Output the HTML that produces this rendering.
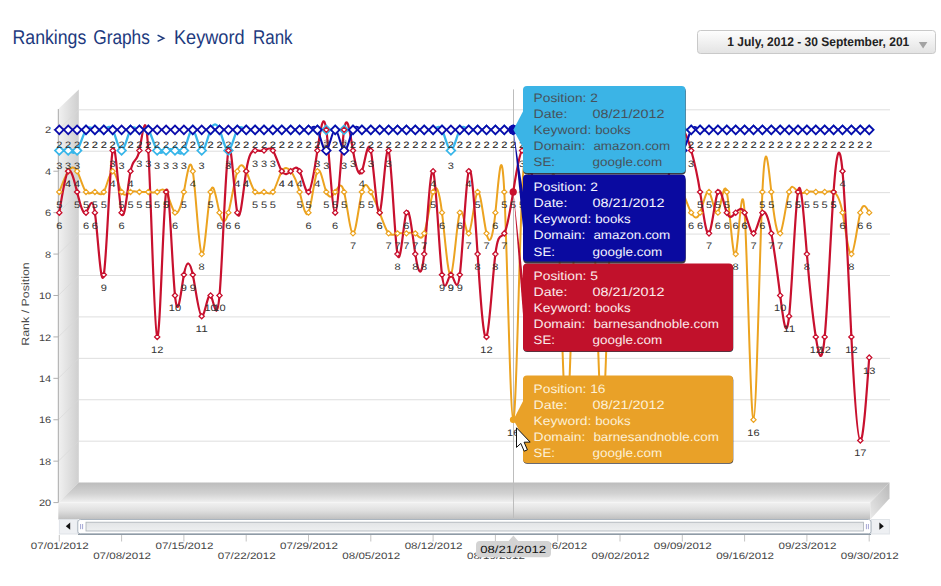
<!DOCTYPE html>
<html><head><meta charset="utf-8"><title>Rankings Graphs</title>
<style>
html,body{margin:0;padding:0;background:#fff;}
body{width:941px;height:586px;overflow:hidden;font-family:"Liberation Sans",sans-serif;}
svg{display:block;font-family:"Liberation Sans",sans-serif;text-rendering:geometricPrecision;}
</style></head><body>
<svg width="941" height="586" viewBox="0 0 941 586">
<defs>
<linearGradient id="gWall" x1="0" y1="0" x2="1" y2="0"><stop offset="0" stop-color="#f1f1f1"/><stop offset="1" stop-color="#cfcfcf"/></linearGradient>
<linearGradient id="gTop" x1="0" y1="0" x2="0" y2="1"><stop offset="0" stop-color="#bcbcbc"/><stop offset="0.55" stop-color="#d2d2d2"/><stop offset="1" stop-color="#f1f1f1"/></linearGradient>
<linearGradient id="gFront" x1="0" y1="0" x2="0" y2="1"><stop offset="0" stop-color="#f1f1f1"/><stop offset="0.5" stop-color="#dedede"/><stop offset="1" stop-color="#bebebe"/></linearGradient>
<linearGradient id="gSide" x1="0" y1="1" x2="1" y2="0"><stop offset="0" stop-color="#e9e9e9"/><stop offset="1" stop-color="#b9b9b9"/></linearGradient>
<linearGradient id="gBtn" x1="0" y1="0" x2="0" y2="1"><stop offset="0" stop-color="#fefefe"/><stop offset="1" stop-color="#e3e3e3"/></linearGradient>
<linearGradient id="gBar" x1="0" y1="0" x2="0" y2="1"><stop offset="0" stop-color="#e2e4e6"/><stop offset="1" stop-color="#eef0f1"/></linearGradient>
</defs>
<rect width="941" height="586" fill="#fff"/>

<text x="12.5" y="44" font-size="20" fill="#1d3a7e" textLength="73.8" lengthAdjust="spacingAndGlyphs">Rankings</text>
<text x="93.2" y="44" font-size="20" fill="#1d3a7e" textLength="56.7" lengthAdjust="spacingAndGlyphs">Graphs</text>
<text x="174" y="44" font-size="20" fill="#1d3a7e" textLength="70.5" lengthAdjust="spacingAndGlyphs">Keyword</text>
<text x="253" y="44" font-size="20" fill="#1d3a7e" textLength="39.6" lengthAdjust="spacingAndGlyphs">Rank</text>
<path d="M157.6,35.2 L163.8,38.3 L157.6,41.4" fill="none" stroke="#1d3a7e" stroke-width="1.5"/>
<rect x="697.5" y="30.5" width="238" height="23" rx="3" ry="3" fill="url(#gBtn)" stroke="#c9c9c9"/>
<text x="727.3" y="46.3" font-size="12.6" font-weight="bold" fill="#222" textLength="182" lengthAdjust="spacingAndGlyphs">1 July, 2012 - 30 September, 201</text>
<path d="M918.8,42 L927.4,42 L923.1,48.4 Z" fill="#a3a3a3"/>
<line x1="78.8" y1="109.81" x2="890" y2="109.81" stroke="#dedede" stroke-width="1"/>
<line x1="78.8" y1="151.23" x2="890" y2="151.23" stroke="#dedede" stroke-width="1"/>
<line x1="78.8" y1="192.65" x2="890" y2="192.65" stroke="#dedede" stroke-width="1"/>
<line x1="78.8" y1="234.07" x2="890" y2="234.07" stroke="#dedede" stroke-width="1"/>
<line x1="78.8" y1="275.49" x2="890" y2="275.49" stroke="#dedede" stroke-width="1"/>
<line x1="78.8" y1="316.91" x2="890" y2="316.91" stroke="#dedede" stroke-width="1"/>
<line x1="78.8" y1="358.33" x2="890" y2="358.33" stroke="#dedede" stroke-width="1"/>
<line x1="78.8" y1="399.75" x2="890" y2="399.75" stroke="#dedede" stroke-width="1"/>
<line x1="78.8" y1="441.17" x2="890" y2="441.17" stroke="#dedede" stroke-width="1"/>
<polygon points="58.3,109.1 78.8,89.4 78.8,482.6 58.3,502.6" fill="url(#gWall)"/>
<line x1="58.3" y1="129.81" x2="78.8" y2="109.81" stroke="#d8d8d8" stroke-opacity="0.7" stroke-width="1"/>
<line x1="58.3" y1="171.23" x2="78.8" y2="151.23" stroke="#d8d8d8" stroke-opacity="0.7" stroke-width="1"/>
<line x1="58.3" y1="212.65" x2="78.8" y2="192.65" stroke="#d8d8d8" stroke-opacity="0.7" stroke-width="1"/>
<line x1="58.3" y1="254.07" x2="78.8" y2="234.07" stroke="#d8d8d8" stroke-opacity="0.7" stroke-width="1"/>
<line x1="58.3" y1="295.49" x2="78.8" y2="275.49" stroke="#d8d8d8" stroke-opacity="0.7" stroke-width="1"/>
<line x1="58.3" y1="336.91" x2="78.8" y2="316.91" stroke="#d8d8d8" stroke-opacity="0.7" stroke-width="1"/>
<line x1="58.3" y1="378.33" x2="78.8" y2="358.33" stroke="#d8d8d8" stroke-opacity="0.7" stroke-width="1"/>
<line x1="58.3" y1="419.75" x2="78.8" y2="399.75" stroke="#d8d8d8" stroke-opacity="0.7" stroke-width="1"/>
<line x1="58.3" y1="461.17" x2="78.8" y2="441.17" stroke="#d8d8d8" stroke-opacity="0.7" stroke-width="1"/>
<polygon points="78.8,482.6 889.5,482.6 870.3,502.6 58.3,502.6" fill="url(#gTop)"/>
<rect x="58.3" y="502.6" width="812" height="16.9" fill="url(#gFront)"/>
<polygon points="870.3,502.6 889.5,482.6 889.5,498.5 870.3,519.5" fill="url(#gSide)"/>
<line x1="58.3" y1="109.1" x2="58.3" y2="502.6" stroke="#a8a8a8" stroke-width="1"/>
<line x1="53.4" y1="129.81" x2="58.3" y2="129.81" stroke="#b0b0b0" stroke-width="1"/>
<text x="45.06" y="133.41" font-size="9.40" fill="#444" textLength="6.14" lengthAdjust="spacingAndGlyphs"  >2</text>
<line x1="53.4" y1="171.23" x2="58.3" y2="171.23" stroke="#b0b0b0" stroke-width="1"/>
<text x="45.06" y="174.83" font-size="9.40" fill="#444" textLength="6.14" lengthAdjust="spacingAndGlyphs"  >4</text>
<line x1="53.4" y1="212.65" x2="58.3" y2="212.65" stroke="#b0b0b0" stroke-width="1"/>
<text x="45.06" y="216.25" font-size="9.40" fill="#444" textLength="6.14" lengthAdjust="spacingAndGlyphs"  >6</text>
<line x1="53.4" y1="254.07" x2="58.3" y2="254.07" stroke="#b0b0b0" stroke-width="1"/>
<text x="45.06" y="257.67" font-size="9.40" fill="#444" textLength="6.14" lengthAdjust="spacingAndGlyphs"  >8</text>
<line x1="53.4" y1="295.49" x2="58.3" y2="295.49" stroke="#b0b0b0" stroke-width="1"/>
<text x="38.93" y="299.09" font-size="9.40" fill="#444" textLength="12.27" lengthAdjust="spacingAndGlyphs"  >10</text>
<line x1="53.4" y1="336.91" x2="58.3" y2="336.91" stroke="#b0b0b0" stroke-width="1"/>
<text x="38.93" y="340.51" font-size="9.40" fill="#444" textLength="12.27" lengthAdjust="spacingAndGlyphs"  >12</text>
<line x1="53.4" y1="378.33" x2="58.3" y2="378.33" stroke="#b0b0b0" stroke-width="1"/>
<text x="38.93" y="381.93" font-size="9.40" fill="#444" textLength="12.27" lengthAdjust="spacingAndGlyphs"  >14</text>
<line x1="53.4" y1="419.75" x2="58.3" y2="419.75" stroke="#b0b0b0" stroke-width="1"/>
<text x="38.93" y="423.35" font-size="9.40" fill="#444" textLength="12.27" lengthAdjust="spacingAndGlyphs"  >16</text>
<line x1="53.4" y1="461.17" x2="58.3" y2="461.17" stroke="#b0b0b0" stroke-width="1"/>
<text x="38.93" y="464.77" font-size="9.40" fill="#444" textLength="12.27" lengthAdjust="spacingAndGlyphs"  >18</text>
<line x1="53.4" y1="502.59" x2="58.3" y2="502.59" stroke="#b0b0b0" stroke-width="1"/>
<text x="38.93" y="506.19" font-size="9.40" fill="#444" textLength="12.27" lengthAdjust="spacingAndGlyphs"  >20</text>
<g transform="translate(29.2,304) rotate(-90)"><text x="-41.76" y="0.00" font-size="10.45" fill="#4c4c4c" textLength="83.51" lengthAdjust="spacingAndGlyphs"  >Rank / Position</text></g>
<line x1="513.5" y1="89.4" x2="513.5" y2="518" stroke="#bdbdbd" stroke-width="1"/>
<path d="M59.30,191.94C62.27,183.83 65.23,175.72 68.20,171.23C71.17,166.74 74.13,165.87 77.10,171.23C80.07,176.59 83.03,188.20 86.00,191.94C88.97,195.68 91.93,191.56 94.90,191.94C97.87,192.32 100.83,197.19 103.80,191.94C106.77,186.69 109.73,171.31 112.70,171.23C115.67,171.15 118.63,186.38 121.60,191.94C124.57,197.50 127.53,193.41 130.50,191.94C133.47,190.47 136.43,191.63 139.40,191.94C142.37,192.25 145.33,191.70 148.30,191.94C151.27,192.18 154.23,193.20 157.20,191.94C160.17,190.68 163.13,187.12 166.10,191.94C169.07,196.76 172.03,209.95 175.00,212.65C177.97,215.35 180.93,207.57 183.90,191.94C186.87,176.31 189.83,152.82 192.80,171.23C195.77,189.64 198.73,249.93 201.70,254.07C204.67,258.21 207.63,206.20 210.60,191.94C213.57,177.68 216.53,201.18 219.50,212.65C222.47,224.12 225.43,223.55 228.40,212.65C231.37,201.75 234.33,180.52 237.30,171.23C240.27,161.94 243.23,164.60 246.20,171.23C249.17,177.86 252.13,188.45 255.10,191.94C258.07,195.43 261.03,191.83 264.00,191.94C266.97,192.05 269.93,195.86 272.90,191.94C275.87,188.02 278.83,176.35 281.80,171.23C284.77,166.11 287.73,167.54 290.70,171.23C293.67,174.92 296.63,180.86 299.60,191.94C302.57,203.02 305.53,219.23 308.50,212.65C311.47,206.07 314.43,176.70 317.40,171.23C320.37,165.76 323.33,184.19 326.30,191.94C329.27,199.69 332.23,196.76 335.20,191.94C338.17,187.12 341.13,180.40 344.10,191.94C347.07,203.48 350.03,233.26 353.00,233.36C355.97,233.46 358.93,203.86 361.90,191.94C364.87,180.02 367.83,185.78 370.80,191.94C373.77,198.10 376.73,204.68 379.70,212.65C382.67,220.62 385.63,229.99 388.60,233.36C391.57,236.73 394.53,234.11 397.50,233.36C400.47,232.61 403.43,233.74 406.40,233.36C409.37,232.98 412.33,231.10 415.30,233.36C418.27,235.62 421.23,242.04 424.20,233.36C427.17,224.68 430.13,200.92 433.10,191.94C436.07,182.96 439.03,188.75 442.00,212.65C444.97,236.55 447.93,278.54 450.90,274.78C453.87,271.02 456.83,221.49 459.80,212.65C462.77,203.81 465.73,235.67 468.70,233.36C471.67,231.05 474.63,194.59 477.60,191.94C480.57,189.29 483.53,220.46 486.50,233.36C489.47,246.26 492.43,240.88 495.40,212.65C498.37,184.42 501.33,133.35 504.30,191.94C507.27,250.53 510.23,418.77 513.20,419.75C516.17,420.73 519.13,254.44 522.10,191.94C525.07,129.44 528.03,170.74 531.00,191.94C533.97,213.14 536.93,214.24 539.90,212.65C542.87,211.06 545.83,206.77 548.80,191.94C551.77,177.11 554.73,151.72 557.70,212.65C560.67,273.58 563.63,420.81 566.60,419.75C569.57,418.69 572.53,269.33 575.50,212.65C578.47,155.97 581.43,191.97 584.40,191.94C587.37,191.91 590.33,155.85 593.30,212.65C596.27,269.45 599.23,419.11 602.20,419.75C605.17,420.39 608.13,272.01 611.10,212.65C614.07,153.29 617.03,182.94 620.00,191.94C622.97,200.94 625.93,189.30 628.90,191.94C631.87,194.58 634.83,211.51 637.80,212.65C640.77,213.79 643.73,199.16 646.70,191.94C649.67,184.72 652.63,184.93 655.60,191.94C658.57,198.95 661.53,212.78 664.50,212.65C667.47,212.52 670.43,198.43 673.40,191.94C676.37,185.45 679.33,186.55 682.30,191.94C685.27,197.33 688.23,206.99 691.20,212.65C694.17,218.31 697.13,219.96 700.10,212.65C703.07,205.34 706.03,189.08 709.00,191.94C711.97,194.80 714.93,216.79 717.90,212.65C720.87,208.51 723.83,178.25 726.80,191.94C729.77,205.63 732.73,263.25 735.70,254.07C738.67,244.89 741.63,168.89 744.60,212.65C747.57,256.41 750.53,419.93 753.50,419.75C756.47,419.57 759.43,255.69 762.40,191.94C765.37,128.19 768.33,164.56 771.30,191.94C774.27,219.32 777.23,237.72 780.20,233.36C783.17,229.00 786.13,201.87 789.10,191.94C792.07,182.01 795.03,189.27 798.00,191.94C800.97,194.61 803.93,192.68 806.90,191.94C809.87,191.20 812.83,191.65 815.80,191.94C818.77,192.23 821.73,192.37 824.70,191.94C827.67,191.51 830.63,190.51 833.60,191.94C836.57,193.37 839.53,197.23 842.50,212.65C845.47,228.07 848.43,255.03 851.40,254.07C854.37,253.11 857.33,224.21 860.30,212.65C863.27,201.09 866.23,206.87 869.20,212.65" fill="none" stroke="#eca320" stroke-width="2.0" stroke-linejoin="round"/>
<path d="M59.30,150.52C62.27,149.90 65.23,149.27 68.20,150.52C71.17,151.77 74.13,154.89 77.10,150.52C80.07,146.15 83.03,134.29 86.00,129.81C88.97,125.33 91.93,128.24 94.90,129.81C97.87,131.38 100.83,131.62 103.80,129.81C106.77,128.00 109.73,124.15 112.70,129.81C115.67,135.47 118.63,150.63 121.60,150.52C124.57,150.41 127.53,135.04 130.50,129.81C133.47,124.58 136.43,129.49 139.40,129.81C142.37,130.13 145.33,125.86 148.30,129.81C151.27,133.76 154.23,145.92 157.20,150.52C160.17,155.12 163.13,152.14 166.10,150.52C169.07,148.90 172.03,148.63 175.00,150.52C177.97,152.41 180.93,156.44 183.90,150.52C186.87,144.60 189.83,128.72 192.80,129.81C195.77,130.90 198.73,148.96 201.70,150.52C204.67,152.08 207.63,137.16 210.60,129.81C213.57,122.46 216.53,122.69 219.50,129.81C222.47,136.93 225.43,150.94 228.40,150.52C231.37,150.10 234.33,135.25 237.30,129.81C240.27,124.37 243.23,128.35 246.20,129.81C249.17,131.27 252.13,130.20 255.10,129.81C258.07,129.42 261.03,129.71 264.00,129.81C266.97,129.91 269.93,129.84 272.90,129.81C275.87,129.78 278.83,129.80 281.80,129.81C284.77,129.82 287.73,129.81 290.70,129.81C293.67,129.81 296.63,129.81 299.60,129.81C302.57,129.81 305.53,129.81 308.50,129.81C311.47,129.81 314.43,129.81 317.40,129.81C320.37,129.81 323.33,129.81 326.30,129.81C329.27,129.81 332.23,129.81 335.20,129.81C338.17,129.81 341.13,129.81 344.10,129.81C347.07,129.81 350.03,129.81 353.00,129.81C355.97,129.81 358.93,129.81 361.90,129.81C364.87,129.81 367.83,129.81 370.80,129.81C373.77,129.81 376.73,129.81 379.70,129.81C382.67,129.81 385.63,129.81 388.60,129.81C391.57,129.81 394.53,129.82 397.50,129.81C400.47,129.80 403.43,129.78 406.40,129.81C409.37,129.84 412.33,129.92 415.30,129.81C418.27,129.70 421.23,129.41 424.20,129.81C427.17,130.21 430.13,131.30 433.10,129.81C436.07,128.32 439.03,124.26 442.00,129.81C444.97,135.36 447.93,150.52 450.90,150.52C453.87,150.52 456.83,135.36 459.80,129.81C462.77,124.26 465.73,128.32 468.70,129.81C471.67,131.30 474.63,130.21 477.60,129.81C480.57,129.41 483.53,129.70 486.50,129.81C489.47,129.92 492.43,129.84 495.40,129.81C498.37,129.78 501.33,129.80 504.30,129.81C507.27,129.82 510.23,129.81 513.20,129.81C516.17,129.81 519.13,129.81 522.10,129.81C525.07,129.81 528.03,129.81 531.00,129.81C533.97,129.81 536.93,129.81 539.90,129.81C542.87,129.81 545.83,129.81 548.80,129.81C551.77,129.81 554.73,129.81 557.70,129.81C560.67,129.81 563.63,129.81 566.60,129.81C569.57,129.81 572.53,129.81 575.50,129.81C578.47,129.81 581.43,129.81 584.40,129.81C587.37,129.81 590.33,129.81 593.30,129.81C596.27,129.81 599.23,129.81 602.20,129.81C605.17,129.81 608.13,129.81 611.10,129.81C614.07,129.81 617.03,129.81 620.00,129.81C622.97,129.81 625.93,129.81 628.90,129.81C631.87,129.81 634.83,129.81 637.80,129.81C640.77,129.81 643.73,129.81 646.70,129.81C649.67,129.81 652.63,129.81 655.60,129.81C658.57,129.81 661.53,129.81 664.50,129.81C667.47,129.81 670.43,129.81 673.40,129.81C676.37,129.81 679.33,129.81 682.30,129.81C685.27,129.81 688.23,129.81 691.20,129.81C694.17,129.81 697.13,129.81 700.10,129.81C703.07,129.81 706.03,129.81 709.00,129.81C711.97,129.81 714.93,129.81 717.90,129.81C720.87,129.81 723.83,129.81 726.80,129.81C729.77,129.81 732.73,129.81 735.70,129.81C738.67,129.81 741.63,129.81 744.60,129.81C747.57,129.81 750.53,129.81 753.50,129.81C756.47,129.81 759.43,129.81 762.40,129.81C765.37,129.81 768.33,129.81 771.30,129.81C774.27,129.81 777.23,129.81 780.20,129.81C783.17,129.81 786.13,129.81 789.10,129.81C792.07,129.81 795.03,129.81 798.00,129.81C800.97,129.81 803.93,129.81 806.90,129.81C809.87,129.81 812.83,129.81 815.80,129.81C818.77,129.81 821.73,129.81 824.70,129.81C827.67,129.81 830.63,129.81 833.60,129.81C836.57,129.81 839.53,129.81 842.50,129.81C845.47,129.81 848.43,129.81 851.40,129.81C854.37,129.81 857.33,129.81 860.30,129.81C863.27,129.81 866.23,129.81 869.20,129.81" fill="none" stroke="#38b6e9" stroke-width="2.3" stroke-linejoin="round"/>
<path d="M59.30,212.65C62.27,193.65 65.23,174.64 68.20,171.23C71.17,167.82 74.13,180.00 77.10,191.94C80.07,203.88 83.03,215.59 86.00,212.65C88.97,209.71 91.93,192.12 94.90,212.65C97.87,233.18 100.83,291.84 103.80,274.78C106.77,257.72 109.73,164.94 112.70,150.52C115.67,136.10 118.63,200.05 121.60,212.65C124.57,225.25 127.53,186.48 130.50,171.23C133.47,155.98 136.43,164.23 139.40,150.52C142.37,136.81 145.33,101.14 148.30,150.52C151.27,199.90 154.23,334.32 157.20,336.91C160.17,339.50 163.13,210.27 166.10,191.94C169.07,173.61 172.03,266.19 175.00,295.49C177.97,324.79 180.93,290.82 183.90,274.78C186.87,258.74 189.83,260.65 192.80,274.78C195.77,288.91 198.73,315.26 201.70,316.20C204.67,317.14 207.63,292.66 210.60,295.49C213.57,298.32 216.53,328.45 219.50,295.49C222.47,262.53 225.43,166.47 228.40,150.52C231.37,134.57 234.33,198.75 237.30,212.65C240.27,226.55 243.23,190.19 246.20,171.23C249.17,152.27 252.13,150.70 255.10,150.52C258.07,150.34 261.03,151.53 264.00,150.52C266.97,149.51 269.93,146.29 272.90,150.52C275.87,154.75 278.83,166.41 281.80,171.23C284.77,176.05 287.73,174.01 290.70,171.23C293.67,168.45 296.63,164.94 299.60,171.23C302.57,177.52 305.53,193.62 308.50,191.94C311.47,190.26 314.43,170.80 317.40,150.52C320.37,130.24 323.33,109.15 326.30,129.81C329.27,150.47 332.23,212.87 335.20,212.65C338.17,212.43 341.13,149.60 344.10,129.81C347.07,110.02 350.03,133.29 353.00,150.52C355.97,167.75 358.93,178.94 361.90,171.23C364.87,163.52 367.83,136.90 370.80,150.52C373.77,164.14 376.73,217.99 379.70,212.65C382.67,207.31 385.63,142.78 388.60,150.52C391.57,158.26 394.53,238.28 397.50,254.07C400.47,269.86 403.43,221.42 406.40,212.65C409.37,203.88 412.33,234.78 415.30,254.07C418.27,273.36 421.23,281.05 424.20,254.07C427.17,227.09 430.13,165.44 433.10,171.23C436.07,177.02 439.03,250.25 442.00,274.78C444.97,299.31 447.93,275.14 450.90,274.78C453.87,274.42 456.83,297.88 459.80,274.78C462.77,251.68 465.73,182.01 468.70,171.23C471.67,160.45 474.63,208.56 477.60,254.07C480.57,299.58 483.53,342.48 486.50,336.91C489.47,331.34 492.43,277.30 495.40,254.07C498.37,230.84 501.33,238.43 504.30,233.36C507.27,228.29 510.23,210.57 513.20,191.94C516.17,173.31 519.13,153.76 522.10,150.52C525.07,147.28 528.03,160.35 531.00,171.23C533.97,182.11 536.93,190.79 539.90,191.94C542.87,193.09 545.83,186.70 548.80,191.94C551.77,197.18 554.73,214.05 557.70,212.65C560.67,211.25 563.63,191.56 566.60,191.94C569.57,192.32 572.53,212.75 575.50,212.65C578.47,212.55 581.43,191.91 584.40,191.94C587.37,191.97 590.33,212.66 593.30,212.65C596.27,212.64 599.23,191.94 602.20,191.94C605.17,191.94 608.13,212.64 611.10,212.65C614.07,212.66 617.03,191.96 620.00,191.94C622.97,191.92 625.93,212.57 628.90,212.65C631.87,212.73 634.83,192.23 637.80,191.94C640.77,191.65 643.73,211.58 646.70,212.65C649.67,213.72 652.63,195.94 655.60,191.94C658.57,187.94 661.53,197.71 664.50,191.94C667.47,186.17 670.43,164.84 673.40,150.52C676.37,136.20 679.33,128.88 682.30,129.81C685.27,130.74 688.23,139.93 691.20,150.52C694.17,161.11 697.13,173.09 700.10,191.94C703.07,210.79 706.03,236.50 709.00,233.36C711.97,230.22 714.93,198.24 717.90,191.94C720.87,185.64 723.83,205.04 726.80,212.65C729.77,220.26 732.73,216.10 735.70,212.65C738.67,209.20 741.63,206.46 744.60,212.65C747.57,218.84 750.53,233.96 753.50,233.36C756.47,232.76 759.43,216.44 762.40,212.65C765.37,208.86 768.33,217.61 771.30,233.36C774.27,249.11 777.23,271.87 780.20,295.49C783.17,319.11 786.13,343.58 789.10,316.20C792.07,288.82 795.03,209.58 798.00,191.94C800.97,174.30 803.93,218.28 806.90,254.07C809.87,289.86 812.83,317.48 815.80,336.91C818.77,356.34 821.73,367.58 824.70,336.91C827.67,306.24 830.63,233.67 833.60,191.94C836.57,150.21 839.53,139.34 842.50,171.23C845.47,203.12 848.43,277.79 851.40,336.91C854.37,396.03 857.33,439.60 860.30,440.46C863.27,441.32 866.23,399.47 869.20,357.62" fill="none" stroke="#c8102e" stroke-width="2.2" stroke-linejoin="round"/>
<path d="M59.30,129.81C62.27,129.81 65.23,129.81 68.20,129.81C71.17,129.81 74.13,129.81 77.10,129.81C80.07,129.81 83.03,129.81 86.00,129.81C88.97,129.81 91.93,129.81 94.90,129.81C97.87,129.81 100.83,129.81 103.80,129.81C106.77,129.81 109.73,129.81 112.70,129.81C115.67,129.81 118.63,129.81 121.60,129.81C124.57,129.81 127.53,129.81 130.50,129.81C133.47,129.81 136.43,129.81 139.40,129.81C142.37,129.81 145.33,129.81 148.30,129.81C151.27,129.81 154.23,129.81 157.20,129.81C160.17,129.81 163.13,129.81 166.10,129.81C169.07,129.81 172.03,129.81 175.00,129.81C177.97,129.81 180.93,129.81 183.90,129.81C186.87,129.81 189.83,129.81 192.80,129.81C195.77,129.81 198.73,129.81 201.70,129.81C204.67,129.81 207.63,129.81 210.60,129.81C213.57,129.81 216.53,129.81 219.50,129.81C222.47,129.81 225.43,129.81 228.40,129.81C231.37,129.81 234.33,129.81 237.30,129.81C240.27,129.81 243.23,129.81 246.20,129.81C249.17,129.81 252.13,129.81 255.10,129.81C258.07,129.81 261.03,129.81 264.00,129.81C266.97,129.81 269.93,129.82 272.90,129.81C275.87,129.80 278.83,129.78 281.80,129.81C284.77,129.84 287.73,129.92 290.70,129.81C293.67,129.70 296.63,129.38 299.60,129.81C302.57,130.24 305.53,131.40 308.50,129.81C311.47,128.22 314.43,123.86 317.40,129.81C320.37,135.76 323.33,152.01 326.30,150.52C329.27,149.03 332.23,129.81 335.20,129.81C338.17,129.81 341.13,149.03 344.10,150.52C347.07,152.01 350.03,135.76 353.00,129.81C355.97,123.86 358.93,128.22 361.90,129.81C364.87,131.40 367.83,130.24 370.80,129.81C373.77,129.38 376.73,129.70 379.70,129.81C382.67,129.92 385.63,129.84 388.60,129.81C391.57,129.78 394.53,129.80 397.50,129.81C400.47,129.82 403.43,129.81 406.40,129.81C409.37,129.81 412.33,129.81 415.30,129.81C418.27,129.81 421.23,129.81 424.20,129.81C427.17,129.81 430.13,129.81 433.10,129.81C436.07,129.81 439.03,129.81 442.00,129.81C444.97,129.81 447.93,129.81 450.90,129.81C453.87,129.81 456.83,129.81 459.80,129.81C462.77,129.81 465.73,129.81 468.70,129.81C471.67,129.81 474.63,129.81 477.60,129.81C480.57,129.81 483.53,129.81 486.50,129.81C489.47,129.81 492.43,129.81 495.40,129.81C498.37,129.81 501.33,129.81 504.30,129.81C507.27,129.81 510.23,129.81 513.20,129.81C516.17,129.81 519.13,129.81 522.10,129.81C525.07,129.81 528.03,129.81 531.00,129.81C533.97,129.81 536.93,129.81 539.90,129.81C542.87,129.81 545.83,129.81 548.80,129.81C551.77,129.81 554.73,129.81 557.70,129.81C560.67,129.81 563.63,129.81 566.60,129.81C569.57,129.81 572.53,129.81 575.50,129.81C578.47,129.81 581.43,129.81 584.40,129.81C587.37,129.81 590.33,129.81 593.30,129.81C596.27,129.81 599.23,129.81 602.20,129.81C605.17,129.81 608.13,129.81 611.10,129.81C614.07,129.81 617.03,129.81 620.00,129.81C622.97,129.81 625.93,129.82 628.90,129.81C631.87,129.80 634.83,129.78 637.80,129.81C640.77,129.84 643.73,129.92 646.70,129.81C649.67,129.70 652.63,129.41 655.60,129.81C658.57,130.21 661.53,131.30 664.50,129.81C667.47,128.32 670.43,124.26 673.40,129.81C676.37,135.36 679.33,150.52 682.30,150.52C685.27,150.52 688.23,135.36 691.20,129.81C694.17,124.26 697.13,128.32 700.10,129.81C703.07,131.30 706.03,130.21 709.00,129.81C711.97,129.41 714.93,129.70 717.90,129.81C720.87,129.92 723.83,129.84 726.80,129.81C729.77,129.78 732.73,129.80 735.70,129.81C738.67,129.82 741.63,129.81 744.60,129.81C747.57,129.81 750.53,129.81 753.50,129.81C756.47,129.81 759.43,129.81 762.40,129.81C765.37,129.81 768.33,129.81 771.30,129.81C774.27,129.81 777.23,129.81 780.20,129.81C783.17,129.81 786.13,129.81 789.10,129.81C792.07,129.81 795.03,129.81 798.00,129.81C800.97,129.81 803.93,129.81 806.90,129.81C809.87,129.81 812.83,129.81 815.80,129.81C818.77,129.81 821.73,129.81 824.70,129.81C827.67,129.81 830.63,129.81 833.60,129.81C836.57,129.81 839.53,129.81 842.50,129.81C845.47,129.81 848.43,129.81 851.40,129.81C854.37,129.81 857.33,129.81 860.30,129.81C863.27,129.81 866.23,129.81 869.20,129.81" fill="none" stroke="#0b0bab" stroke-width="2.1" stroke-linejoin="round"/>
<path d="M56.70,191.94L59.30,189.34L61.90,191.94L59.30,194.54ZM65.60,171.23L68.20,168.63L70.80,171.23L68.20,173.83ZM74.50,171.23L77.10,168.63L79.70,171.23L77.10,173.83ZM83.40,191.94L86.00,189.34L88.60,191.94L86.00,194.54ZM92.30,191.94L94.90,189.34L97.50,191.94L94.90,194.54ZM101.20,191.94L103.80,189.34L106.40,191.94L103.80,194.54ZM110.10,171.23L112.70,168.63L115.30,171.23L112.70,173.83ZM119.00,191.94L121.60,189.34L124.20,191.94L121.60,194.54ZM127.90,191.94L130.50,189.34L133.10,191.94L130.50,194.54ZM136.80,191.94L139.40,189.34L142.00,191.94L139.40,194.54ZM145.70,191.94L148.30,189.34L150.90,191.94L148.30,194.54ZM154.60,191.94L157.20,189.34L159.80,191.94L157.20,194.54ZM163.50,191.94L166.10,189.34L168.70,191.94L166.10,194.54ZM172.40,212.65L175.00,210.05L177.60,212.65L175.00,215.25ZM181.30,191.94L183.90,189.34L186.50,191.94L183.90,194.54ZM190.20,171.23L192.80,168.63L195.40,171.23L192.80,173.83ZM199.10,254.07L201.70,251.47L204.30,254.07L201.70,256.67ZM208.00,191.94L210.60,189.34L213.20,191.94L210.60,194.54ZM216.90,212.65L219.50,210.05L222.10,212.65L219.50,215.25ZM225.80,212.65L228.40,210.05L231.00,212.65L228.40,215.25ZM234.70,171.23L237.30,168.63L239.90,171.23L237.30,173.83ZM243.60,171.23L246.20,168.63L248.80,171.23L246.20,173.83ZM252.50,191.94L255.10,189.34L257.70,191.94L255.10,194.54ZM261.40,191.94L264.00,189.34L266.60,191.94L264.00,194.54ZM270.30,191.94L272.90,189.34L275.50,191.94L272.90,194.54ZM279.20,171.23L281.80,168.63L284.40,171.23L281.80,173.83ZM288.10,171.23L290.70,168.63L293.30,171.23L290.70,173.83ZM297.00,191.94L299.60,189.34L302.20,191.94L299.60,194.54ZM305.90,212.65L308.50,210.05L311.10,212.65L308.50,215.25ZM314.80,171.23L317.40,168.63L320.00,171.23L317.40,173.83ZM323.70,191.94L326.30,189.34L328.90,191.94L326.30,194.54ZM332.60,191.94L335.20,189.34L337.80,191.94L335.20,194.54ZM341.50,191.94L344.10,189.34L346.70,191.94L344.10,194.54ZM350.40,233.36L353.00,230.76L355.60,233.36L353.00,235.96ZM359.30,191.94L361.90,189.34L364.50,191.94L361.90,194.54ZM368.20,191.94L370.80,189.34L373.40,191.94L370.80,194.54ZM377.10,212.65L379.70,210.05L382.30,212.65L379.70,215.25ZM386.00,233.36L388.60,230.76L391.20,233.36L388.60,235.96ZM394.90,233.36L397.50,230.76L400.10,233.36L397.50,235.96ZM403.80,233.36L406.40,230.76L409.00,233.36L406.40,235.96ZM412.70,233.36L415.30,230.76L417.90,233.36L415.30,235.96ZM421.60,233.36L424.20,230.76L426.80,233.36L424.20,235.96ZM430.50,191.94L433.10,189.34L435.70,191.94L433.10,194.54ZM439.40,212.65L442.00,210.05L444.60,212.65L442.00,215.25ZM448.30,274.78L450.90,272.18L453.50,274.78L450.90,277.38ZM457.20,212.65L459.80,210.05L462.40,212.65L459.80,215.25ZM466.10,233.36L468.70,230.76L471.30,233.36L468.70,235.96ZM475.00,191.94L477.60,189.34L480.20,191.94L477.60,194.54ZM483.90,233.36L486.50,230.76L489.10,233.36L486.50,235.96ZM492.80,212.65L495.40,210.05L498.00,212.65L495.40,215.25ZM501.70,191.94L504.30,189.34L506.90,191.94L504.30,194.54ZM510.60,419.75L513.20,417.15L515.80,419.75L513.20,422.35ZM519.50,191.94L522.10,189.34L524.70,191.94L522.10,194.54ZM528.40,191.94L531.00,189.34L533.60,191.94L531.00,194.54ZM537.30,212.65L539.90,210.05L542.50,212.65L539.90,215.25ZM546.20,191.94L548.80,189.34L551.40,191.94L548.80,194.54ZM555.10,212.65L557.70,210.05L560.30,212.65L557.70,215.25ZM564.00,419.75L566.60,417.15L569.20,419.75L566.60,422.35ZM572.90,212.65L575.50,210.05L578.10,212.65L575.50,215.25ZM581.80,191.94L584.40,189.34L587.00,191.94L584.40,194.54ZM590.70,212.65L593.30,210.05L595.90,212.65L593.30,215.25ZM599.60,419.75L602.20,417.15L604.80,419.75L602.20,422.35ZM608.50,212.65L611.10,210.05L613.70,212.65L611.10,215.25ZM617.40,191.94L620.00,189.34L622.60,191.94L620.00,194.54ZM626.30,191.94L628.90,189.34L631.50,191.94L628.90,194.54ZM635.20,212.65L637.80,210.05L640.40,212.65L637.80,215.25ZM644.10,191.94L646.70,189.34L649.30,191.94L646.70,194.54ZM653.00,191.94L655.60,189.34L658.20,191.94L655.60,194.54ZM661.90,212.65L664.50,210.05L667.10,212.65L664.50,215.25ZM670.80,191.94L673.40,189.34L676.00,191.94L673.40,194.54ZM679.70,191.94L682.30,189.34L684.90,191.94L682.30,194.54ZM688.60,212.65L691.20,210.05L693.80,212.65L691.20,215.25ZM697.50,212.65L700.10,210.05L702.70,212.65L700.10,215.25ZM706.40,191.94L709.00,189.34L711.60,191.94L709.00,194.54ZM715.30,212.65L717.90,210.05L720.50,212.65L717.90,215.25ZM724.20,191.94L726.80,189.34L729.40,191.94L726.80,194.54ZM733.10,254.07L735.70,251.47L738.30,254.07L735.70,256.67ZM742.00,212.65L744.60,210.05L747.20,212.65L744.60,215.25ZM750.90,419.75L753.50,417.15L756.10,419.75L753.50,422.35ZM759.80,191.94L762.40,189.34L765.00,191.94L762.40,194.54ZM768.70,191.94L771.30,189.34L773.90,191.94L771.30,194.54ZM777.60,233.36L780.20,230.76L782.80,233.36L780.20,235.96ZM786.50,191.94L789.10,189.34L791.70,191.94L789.10,194.54ZM795.40,191.94L798.00,189.34L800.60,191.94L798.00,194.54ZM804.30,191.94L806.90,189.34L809.50,191.94L806.90,194.54ZM813.20,191.94L815.80,189.34L818.40,191.94L815.80,194.54ZM822.10,191.94L824.70,189.34L827.30,191.94L824.70,194.54ZM831.00,191.94L833.60,189.34L836.20,191.94L833.60,194.54ZM839.90,212.65L842.50,210.05L845.10,212.65L842.50,215.25ZM848.80,254.07L851.40,251.47L854.00,254.07L851.40,256.67ZM857.70,212.65L860.30,210.05L862.90,212.65L860.30,215.25ZM866.60,212.65L869.20,210.05L871.80,212.65L869.20,215.25Z" fill="#fff" stroke="#eca320" stroke-width="1.2"/>
<path d="M55.00,150.52L59.30,146.22L63.60,150.52L59.30,154.82ZM63.90,150.52L68.20,146.22L72.50,150.52L68.20,154.82ZM72.80,150.52L77.10,146.22L81.40,150.52L77.10,154.82ZM81.70,129.81L86.00,125.51L90.30,129.81L86.00,134.11ZM90.60,129.81L94.90,125.51L99.20,129.81L94.90,134.11ZM99.50,129.81L103.80,125.51L108.10,129.81L103.80,134.11ZM108.40,129.81L112.70,125.51L117.00,129.81L112.70,134.11ZM117.30,150.52L121.60,146.22L125.90,150.52L121.60,154.82ZM126.20,129.81L130.50,125.51L134.80,129.81L130.50,134.11ZM135.10,129.81L139.40,125.51L143.70,129.81L139.40,134.11ZM144.00,129.81L148.30,125.51L152.60,129.81L148.30,134.11ZM152.90,150.52L157.20,146.22L161.50,150.52L157.20,154.82ZM161.80,150.52L166.10,146.22L170.40,150.52L166.10,154.82ZM170.70,150.52L175.00,146.22L179.30,150.52L175.00,154.82ZM179.60,150.52L183.90,146.22L188.20,150.52L183.90,154.82ZM188.50,129.81L192.80,125.51L197.10,129.81L192.80,134.11ZM197.40,150.52L201.70,146.22L206.00,150.52L201.70,154.82ZM206.30,129.81L210.60,125.51L214.90,129.81L210.60,134.11ZM215.20,129.81L219.50,125.51L223.80,129.81L219.50,134.11ZM224.10,150.52L228.40,146.22L232.70,150.52L228.40,154.82ZM233.00,129.81L237.30,125.51L241.60,129.81L237.30,134.11ZM241.90,129.81L246.20,125.51L250.50,129.81L246.20,134.11ZM250.80,129.81L255.10,125.51L259.40,129.81L255.10,134.11ZM259.70,129.81L264.00,125.51L268.30,129.81L264.00,134.11ZM268.60,129.81L272.90,125.51L277.20,129.81L272.90,134.11ZM277.50,129.81L281.80,125.51L286.10,129.81L281.80,134.11ZM286.40,129.81L290.70,125.51L295.00,129.81L290.70,134.11ZM295.30,129.81L299.60,125.51L303.90,129.81L299.60,134.11ZM304.20,129.81L308.50,125.51L312.80,129.81L308.50,134.11ZM313.10,129.81L317.40,125.51L321.70,129.81L317.40,134.11ZM322.00,129.81L326.30,125.51L330.60,129.81L326.30,134.11ZM330.90,129.81L335.20,125.51L339.50,129.81L335.20,134.11ZM339.80,129.81L344.10,125.51L348.40,129.81L344.10,134.11ZM348.70,129.81L353.00,125.51L357.30,129.81L353.00,134.11ZM357.60,129.81L361.90,125.51L366.20,129.81L361.90,134.11ZM366.50,129.81L370.80,125.51L375.10,129.81L370.80,134.11ZM375.40,129.81L379.70,125.51L384.00,129.81L379.70,134.11ZM384.30,129.81L388.60,125.51L392.90,129.81L388.60,134.11ZM393.20,129.81L397.50,125.51L401.80,129.81L397.50,134.11ZM402.10,129.81L406.40,125.51L410.70,129.81L406.40,134.11ZM411.00,129.81L415.30,125.51L419.60,129.81L415.30,134.11ZM419.90,129.81L424.20,125.51L428.50,129.81L424.20,134.11ZM428.80,129.81L433.10,125.51L437.40,129.81L433.10,134.11ZM437.70,129.81L442.00,125.51L446.30,129.81L442.00,134.11ZM446.60,150.52L450.90,146.22L455.20,150.52L450.90,154.82ZM455.50,129.81L459.80,125.51L464.10,129.81L459.80,134.11ZM464.40,129.81L468.70,125.51L473.00,129.81L468.70,134.11ZM473.30,129.81L477.60,125.51L481.90,129.81L477.60,134.11ZM482.20,129.81L486.50,125.51L490.80,129.81L486.50,134.11ZM491.10,129.81L495.40,125.51L499.70,129.81L495.40,134.11ZM500.00,129.81L504.30,125.51L508.60,129.81L504.30,134.11ZM508.90,129.81L513.20,125.51L517.50,129.81L513.20,134.11ZM517.80,129.81L522.10,125.51L526.40,129.81L522.10,134.11ZM526.70,129.81L531.00,125.51L535.30,129.81L531.00,134.11ZM535.60,129.81L539.90,125.51L544.20,129.81L539.90,134.11ZM544.50,129.81L548.80,125.51L553.10,129.81L548.80,134.11ZM553.40,129.81L557.70,125.51L562.00,129.81L557.70,134.11ZM562.30,129.81L566.60,125.51L570.90,129.81L566.60,134.11ZM571.20,129.81L575.50,125.51L579.80,129.81L575.50,134.11ZM580.10,129.81L584.40,125.51L588.70,129.81L584.40,134.11ZM589.00,129.81L593.30,125.51L597.60,129.81L593.30,134.11ZM597.90,129.81L602.20,125.51L606.50,129.81L602.20,134.11ZM606.80,129.81L611.10,125.51L615.40,129.81L611.10,134.11ZM615.70,129.81L620.00,125.51L624.30,129.81L620.00,134.11ZM624.60,129.81L628.90,125.51L633.20,129.81L628.90,134.11ZM633.50,129.81L637.80,125.51L642.10,129.81L637.80,134.11ZM642.40,129.81L646.70,125.51L651.00,129.81L646.70,134.11ZM651.30,129.81L655.60,125.51L659.90,129.81L655.60,134.11ZM660.20,129.81L664.50,125.51L668.80,129.81L664.50,134.11ZM669.10,129.81L673.40,125.51L677.70,129.81L673.40,134.11ZM678.00,129.81L682.30,125.51L686.60,129.81L682.30,134.11ZM686.90,129.81L691.20,125.51L695.50,129.81L691.20,134.11ZM695.80,129.81L700.10,125.51L704.40,129.81L700.10,134.11ZM704.70,129.81L709.00,125.51L713.30,129.81L709.00,134.11ZM713.60,129.81L717.90,125.51L722.20,129.81L717.90,134.11ZM722.50,129.81L726.80,125.51L731.10,129.81L726.80,134.11ZM731.40,129.81L735.70,125.51L740.00,129.81L735.70,134.11ZM740.30,129.81L744.60,125.51L748.90,129.81L744.60,134.11ZM749.20,129.81L753.50,125.51L757.80,129.81L753.50,134.11ZM758.10,129.81L762.40,125.51L766.70,129.81L762.40,134.11ZM767.00,129.81L771.30,125.51L775.60,129.81L771.30,134.11ZM775.90,129.81L780.20,125.51L784.50,129.81L780.20,134.11ZM784.80,129.81L789.10,125.51L793.40,129.81L789.10,134.11ZM793.70,129.81L798.00,125.51L802.30,129.81L798.00,134.11ZM802.60,129.81L806.90,125.51L811.20,129.81L806.90,134.11ZM811.50,129.81L815.80,125.51L820.10,129.81L815.80,134.11ZM820.40,129.81L824.70,125.51L829.00,129.81L824.70,134.11ZM829.30,129.81L833.60,125.51L837.90,129.81L833.60,134.11ZM838.20,129.81L842.50,125.51L846.80,129.81L842.50,134.11ZM847.10,129.81L851.40,125.51L855.70,129.81L851.40,134.11ZM856.00,129.81L860.30,125.51L864.60,129.81L860.30,134.11ZM864.90,129.81L869.20,125.51L873.50,129.81L869.20,134.11Z" fill="#fff" stroke="#38b6e9" stroke-width="1.8"/>
<path d="M56.70,212.65L59.30,210.05L61.90,212.65L59.30,215.25ZM65.60,171.23L68.20,168.63L70.80,171.23L68.20,173.83ZM74.50,191.94L77.10,189.34L79.70,191.94L77.10,194.54ZM83.40,212.65L86.00,210.05L88.60,212.65L86.00,215.25ZM92.30,212.65L94.90,210.05L97.50,212.65L94.90,215.25ZM101.20,274.78L103.80,272.18L106.40,274.78L103.80,277.38ZM110.10,150.52L112.70,147.92L115.30,150.52L112.70,153.12ZM119.00,212.65L121.60,210.05L124.20,212.65L121.60,215.25ZM127.90,171.23L130.50,168.63L133.10,171.23L130.50,173.83ZM136.80,150.52L139.40,147.92L142.00,150.52L139.40,153.12ZM145.70,150.52L148.30,147.92L150.90,150.52L148.30,153.12ZM154.60,336.91L157.20,334.31L159.80,336.91L157.20,339.51ZM163.50,191.94L166.10,189.34L168.70,191.94L166.10,194.54ZM172.40,295.49L175.00,292.89L177.60,295.49L175.00,298.09ZM181.30,274.78L183.90,272.18L186.50,274.78L183.90,277.38ZM190.20,274.78L192.80,272.18L195.40,274.78L192.80,277.38ZM199.10,316.20L201.70,313.60L204.30,316.20L201.70,318.80ZM208.00,295.49L210.60,292.89L213.20,295.49L210.60,298.09ZM216.90,295.49L219.50,292.89L222.10,295.49L219.50,298.09ZM225.80,150.52L228.40,147.92L231.00,150.52L228.40,153.12ZM234.70,212.65L237.30,210.05L239.90,212.65L237.30,215.25ZM243.60,171.23L246.20,168.63L248.80,171.23L246.20,173.83ZM252.50,150.52L255.10,147.92L257.70,150.52L255.10,153.12ZM261.40,150.52L264.00,147.92L266.60,150.52L264.00,153.12ZM270.30,150.52L272.90,147.92L275.50,150.52L272.90,153.12ZM279.20,171.23L281.80,168.63L284.40,171.23L281.80,173.83ZM288.10,171.23L290.70,168.63L293.30,171.23L290.70,173.83ZM297.00,171.23L299.60,168.63L302.20,171.23L299.60,173.83ZM305.90,191.94L308.50,189.34L311.10,191.94L308.50,194.54ZM314.80,150.52L317.40,147.92L320.00,150.52L317.40,153.12ZM323.70,129.81L326.30,127.21L328.90,129.81L326.30,132.41ZM332.60,212.65L335.20,210.05L337.80,212.65L335.20,215.25ZM341.50,129.81L344.10,127.21L346.70,129.81L344.10,132.41ZM350.40,150.52L353.00,147.92L355.60,150.52L353.00,153.12ZM359.30,171.23L361.90,168.63L364.50,171.23L361.90,173.83ZM368.20,150.52L370.80,147.92L373.40,150.52L370.80,153.12ZM377.10,212.65L379.70,210.05L382.30,212.65L379.70,215.25ZM386.00,150.52L388.60,147.92L391.20,150.52L388.60,153.12ZM394.90,254.07L397.50,251.47L400.10,254.07L397.50,256.67ZM403.80,212.65L406.40,210.05L409.00,212.65L406.40,215.25ZM412.70,254.07L415.30,251.47L417.90,254.07L415.30,256.67ZM421.60,254.07L424.20,251.47L426.80,254.07L424.20,256.67ZM430.50,171.23L433.10,168.63L435.70,171.23L433.10,173.83ZM439.40,274.78L442.00,272.18L444.60,274.78L442.00,277.38ZM448.30,274.78L450.90,272.18L453.50,274.78L450.90,277.38ZM457.20,274.78L459.80,272.18L462.40,274.78L459.80,277.38ZM466.10,171.23L468.70,168.63L471.30,171.23L468.70,173.83ZM475.00,254.07L477.60,251.47L480.20,254.07L477.60,256.67ZM483.90,336.91L486.50,334.31L489.10,336.91L486.50,339.51ZM492.80,254.07L495.40,251.47L498.00,254.07L495.40,256.67ZM501.70,233.36L504.30,230.76L506.90,233.36L504.30,235.96ZM510.60,191.94L513.20,189.34L515.80,191.94L513.20,194.54ZM519.50,150.52L522.10,147.92L524.70,150.52L522.10,153.12ZM528.40,171.23L531.00,168.63L533.60,171.23L531.00,173.83ZM537.30,191.94L539.90,189.34L542.50,191.94L539.90,194.54ZM546.20,191.94L548.80,189.34L551.40,191.94L548.80,194.54ZM555.10,212.65L557.70,210.05L560.30,212.65L557.70,215.25ZM564.00,191.94L566.60,189.34L569.20,191.94L566.60,194.54ZM572.90,212.65L575.50,210.05L578.10,212.65L575.50,215.25ZM581.80,191.94L584.40,189.34L587.00,191.94L584.40,194.54ZM590.70,212.65L593.30,210.05L595.90,212.65L593.30,215.25ZM599.60,191.94L602.20,189.34L604.80,191.94L602.20,194.54ZM608.50,212.65L611.10,210.05L613.70,212.65L611.10,215.25ZM617.40,191.94L620.00,189.34L622.60,191.94L620.00,194.54ZM626.30,212.65L628.90,210.05L631.50,212.65L628.90,215.25ZM635.20,191.94L637.80,189.34L640.40,191.94L637.80,194.54ZM644.10,212.65L646.70,210.05L649.30,212.65L646.70,215.25ZM653.00,191.94L655.60,189.34L658.20,191.94L655.60,194.54ZM661.90,191.94L664.50,189.34L667.10,191.94L664.50,194.54ZM670.80,150.52L673.40,147.92L676.00,150.52L673.40,153.12ZM679.70,129.81L682.30,127.21L684.90,129.81L682.30,132.41ZM688.60,150.52L691.20,147.92L693.80,150.52L691.20,153.12ZM697.50,191.94L700.10,189.34L702.70,191.94L700.10,194.54ZM706.40,233.36L709.00,230.76L711.60,233.36L709.00,235.96ZM715.30,191.94L717.90,189.34L720.50,191.94L717.90,194.54ZM724.20,212.65L726.80,210.05L729.40,212.65L726.80,215.25ZM733.10,212.65L735.70,210.05L738.30,212.65L735.70,215.25ZM742.00,212.65L744.60,210.05L747.20,212.65L744.60,215.25ZM750.90,233.36L753.50,230.76L756.10,233.36L753.50,235.96ZM759.80,212.65L762.40,210.05L765.00,212.65L762.40,215.25ZM768.70,233.36L771.30,230.76L773.90,233.36L771.30,235.96ZM777.60,295.49L780.20,292.89L782.80,295.49L780.20,298.09ZM786.50,316.20L789.10,313.60L791.70,316.20L789.10,318.80ZM795.40,191.94L798.00,189.34L800.60,191.94L798.00,194.54ZM804.30,254.07L806.90,251.47L809.50,254.07L806.90,256.67ZM813.20,336.91L815.80,334.31L818.40,336.91L815.80,339.51ZM822.10,336.91L824.70,334.31L827.30,336.91L824.70,339.51ZM831.00,191.94L833.60,189.34L836.20,191.94L833.60,194.54ZM839.90,171.23L842.50,168.63L845.10,171.23L842.50,173.83ZM848.80,336.91L851.40,334.31L854.00,336.91L851.40,339.51ZM857.70,440.46L860.30,437.86L862.90,440.46L860.30,443.06ZM866.60,357.62L869.20,355.02L871.80,357.62L869.20,360.22Z" fill="#fff" stroke="#c8102e" stroke-width="1.3"/>
<path d="M55.00,129.81L59.30,125.51L63.60,129.81L59.30,134.11ZM63.90,129.81L68.20,125.51L72.50,129.81L68.20,134.11ZM72.80,129.81L77.10,125.51L81.40,129.81L77.10,134.11ZM81.70,129.81L86.00,125.51L90.30,129.81L86.00,134.11ZM90.60,129.81L94.90,125.51L99.20,129.81L94.90,134.11ZM99.50,129.81L103.80,125.51L108.10,129.81L103.80,134.11ZM108.40,129.81L112.70,125.51L117.00,129.81L112.70,134.11ZM117.30,129.81L121.60,125.51L125.90,129.81L121.60,134.11ZM126.20,129.81L130.50,125.51L134.80,129.81L130.50,134.11ZM135.10,129.81L139.40,125.51L143.70,129.81L139.40,134.11ZM144.00,129.81L148.30,125.51L152.60,129.81L148.30,134.11ZM152.90,129.81L157.20,125.51L161.50,129.81L157.20,134.11ZM161.80,129.81L166.10,125.51L170.40,129.81L166.10,134.11ZM170.70,129.81L175.00,125.51L179.30,129.81L175.00,134.11ZM179.60,129.81L183.90,125.51L188.20,129.81L183.90,134.11ZM188.50,129.81L192.80,125.51L197.10,129.81L192.80,134.11ZM197.40,129.81L201.70,125.51L206.00,129.81L201.70,134.11ZM206.30,129.81L210.60,125.51L214.90,129.81L210.60,134.11ZM215.20,129.81L219.50,125.51L223.80,129.81L219.50,134.11ZM224.10,129.81L228.40,125.51L232.70,129.81L228.40,134.11ZM233.00,129.81L237.30,125.51L241.60,129.81L237.30,134.11ZM241.90,129.81L246.20,125.51L250.50,129.81L246.20,134.11ZM250.80,129.81L255.10,125.51L259.40,129.81L255.10,134.11ZM259.70,129.81L264.00,125.51L268.30,129.81L264.00,134.11ZM268.60,129.81L272.90,125.51L277.20,129.81L272.90,134.11ZM277.50,129.81L281.80,125.51L286.10,129.81L281.80,134.11ZM286.40,129.81L290.70,125.51L295.00,129.81L290.70,134.11ZM295.30,129.81L299.60,125.51L303.90,129.81L299.60,134.11ZM304.20,129.81L308.50,125.51L312.80,129.81L308.50,134.11ZM313.10,129.81L317.40,125.51L321.70,129.81L317.40,134.11ZM322.00,150.52L326.30,146.22L330.60,150.52L326.30,154.82ZM330.90,129.81L335.20,125.51L339.50,129.81L335.20,134.11ZM339.80,150.52L344.10,146.22L348.40,150.52L344.10,154.82ZM348.70,129.81L353.00,125.51L357.30,129.81L353.00,134.11ZM357.60,129.81L361.90,125.51L366.20,129.81L361.90,134.11ZM366.50,129.81L370.80,125.51L375.10,129.81L370.80,134.11ZM375.40,129.81L379.70,125.51L384.00,129.81L379.70,134.11ZM384.30,129.81L388.60,125.51L392.90,129.81L388.60,134.11ZM393.20,129.81L397.50,125.51L401.80,129.81L397.50,134.11ZM402.10,129.81L406.40,125.51L410.70,129.81L406.40,134.11ZM411.00,129.81L415.30,125.51L419.60,129.81L415.30,134.11ZM419.90,129.81L424.20,125.51L428.50,129.81L424.20,134.11ZM428.80,129.81L433.10,125.51L437.40,129.81L433.10,134.11ZM437.70,129.81L442.00,125.51L446.30,129.81L442.00,134.11ZM446.60,129.81L450.90,125.51L455.20,129.81L450.90,134.11ZM455.50,129.81L459.80,125.51L464.10,129.81L459.80,134.11ZM464.40,129.81L468.70,125.51L473.00,129.81L468.70,134.11ZM473.30,129.81L477.60,125.51L481.90,129.81L477.60,134.11ZM482.20,129.81L486.50,125.51L490.80,129.81L486.50,134.11ZM491.10,129.81L495.40,125.51L499.70,129.81L495.40,134.11ZM500.00,129.81L504.30,125.51L508.60,129.81L504.30,134.11ZM508.90,129.81L513.20,125.51L517.50,129.81L513.20,134.11ZM517.80,129.81L522.10,125.51L526.40,129.81L522.10,134.11ZM526.70,129.81L531.00,125.51L535.30,129.81L531.00,134.11ZM535.60,129.81L539.90,125.51L544.20,129.81L539.90,134.11ZM544.50,129.81L548.80,125.51L553.10,129.81L548.80,134.11ZM553.40,129.81L557.70,125.51L562.00,129.81L557.70,134.11ZM562.30,129.81L566.60,125.51L570.90,129.81L566.60,134.11ZM571.20,129.81L575.50,125.51L579.80,129.81L575.50,134.11ZM580.10,129.81L584.40,125.51L588.70,129.81L584.40,134.11ZM589.00,129.81L593.30,125.51L597.60,129.81L593.30,134.11ZM597.90,129.81L602.20,125.51L606.50,129.81L602.20,134.11ZM606.80,129.81L611.10,125.51L615.40,129.81L611.10,134.11ZM615.70,129.81L620.00,125.51L624.30,129.81L620.00,134.11ZM624.60,129.81L628.90,125.51L633.20,129.81L628.90,134.11ZM633.50,129.81L637.80,125.51L642.10,129.81L637.80,134.11ZM642.40,129.81L646.70,125.51L651.00,129.81L646.70,134.11ZM651.30,129.81L655.60,125.51L659.90,129.81L655.60,134.11ZM660.20,129.81L664.50,125.51L668.80,129.81L664.50,134.11ZM669.10,129.81L673.40,125.51L677.70,129.81L673.40,134.11ZM678.00,150.52L682.30,146.22L686.60,150.52L682.30,154.82ZM686.90,129.81L691.20,125.51L695.50,129.81L691.20,134.11ZM695.80,129.81L700.10,125.51L704.40,129.81L700.10,134.11ZM704.70,129.81L709.00,125.51L713.30,129.81L709.00,134.11ZM713.60,129.81L717.90,125.51L722.20,129.81L717.90,134.11ZM722.50,129.81L726.80,125.51L731.10,129.81L726.80,134.11ZM731.40,129.81L735.70,125.51L740.00,129.81L735.70,134.11ZM740.30,129.81L744.60,125.51L748.90,129.81L744.60,134.11ZM749.20,129.81L753.50,125.51L757.80,129.81L753.50,134.11ZM758.10,129.81L762.40,125.51L766.70,129.81L762.40,134.11ZM767.00,129.81L771.30,125.51L775.60,129.81L771.30,134.11ZM775.90,129.81L780.20,125.51L784.50,129.81L780.20,134.11ZM784.80,129.81L789.10,125.51L793.40,129.81L789.10,134.11ZM793.70,129.81L798.00,125.51L802.30,129.81L798.00,134.11ZM802.60,129.81L806.90,125.51L811.20,129.81L806.90,134.11ZM811.50,129.81L815.80,125.51L820.10,129.81L815.80,134.11ZM820.40,129.81L824.70,125.51L829.00,129.81L824.70,134.11ZM829.30,129.81L833.60,125.51L837.90,129.81L833.60,134.11ZM838.20,129.81L842.50,125.51L846.80,129.81L842.50,134.11ZM847.10,129.81L851.40,125.51L855.70,129.81L851.40,134.11ZM856.00,129.81L860.30,125.51L864.60,129.81L860.30,134.11ZM864.90,129.81L869.20,125.51L873.50,129.81L869.20,134.11Z" fill="#fff" stroke="#0b0bab" stroke-width="1.8"/>
<circle cx="513.20" cy="419.75" r="3.3" fill="#eca320"/>
<circle cx="513.20" cy="191.94" r="3.6" fill="#c8102e"/>
<circle cx="513.20" cy="129.81" r="5" fill="#0b0bab"/>
<g>
<text x="56.23" y="207.94" font-size="9.40" fill="#333" textLength="6.14" lengthAdjust="spacingAndGlyphs"  >5</text>
<text x="65.13" y="187.23" font-size="9.40" fill="#333" textLength="6.14" lengthAdjust="spacingAndGlyphs"  >4</text>
<text x="74.03" y="187.23" font-size="9.40" fill="#333" textLength="6.14" lengthAdjust="spacingAndGlyphs"  >4</text>
<text x="82.93" y="207.94" font-size="9.40" fill="#333" textLength="6.14" lengthAdjust="spacingAndGlyphs"  >5</text>
<text x="91.83" y="207.94" font-size="9.40" fill="#333" textLength="6.14" lengthAdjust="spacingAndGlyphs"  >5</text>
<text x="100.73" y="207.94" font-size="9.40" fill="#333" textLength="6.14" lengthAdjust="spacingAndGlyphs"  >5</text>
<text x="109.63" y="187.23" font-size="9.40" fill="#333" textLength="6.14" lengthAdjust="spacingAndGlyphs"  >4</text>
<text x="118.53" y="207.94" font-size="9.40" fill="#333" textLength="6.14" lengthAdjust="spacingAndGlyphs"  >5</text>
<text x="127.43" y="207.94" font-size="9.40" fill="#333" textLength="6.14" lengthAdjust="spacingAndGlyphs"  >5</text>
<text x="136.33" y="207.94" font-size="9.40" fill="#333" textLength="6.14" lengthAdjust="spacingAndGlyphs"  >5</text>
<text x="145.23" y="207.94" font-size="9.40" fill="#333" textLength="6.14" lengthAdjust="spacingAndGlyphs"  >5</text>
<text x="154.13" y="207.94" font-size="9.40" fill="#333" textLength="6.14" lengthAdjust="spacingAndGlyphs"  >5</text>
<text x="163.03" y="207.94" font-size="9.40" fill="#333" textLength="6.14" lengthAdjust="spacingAndGlyphs"  >5</text>
<text x="171.93" y="228.65" font-size="9.40" fill="#333" textLength="6.14" lengthAdjust="spacingAndGlyphs"  >6</text>
<text x="180.83" y="207.94" font-size="9.40" fill="#333" textLength="6.14" lengthAdjust="spacingAndGlyphs"  >5</text>
<text x="189.73" y="187.23" font-size="9.40" fill="#333" textLength="6.14" lengthAdjust="spacingAndGlyphs"  >4</text>
<text x="198.63" y="270.07" font-size="9.40" fill="#333" textLength="6.14" lengthAdjust="spacingAndGlyphs"  >8</text>
<text x="207.53" y="207.94" font-size="9.40" fill="#333" textLength="6.14" lengthAdjust="spacingAndGlyphs"  >5</text>
<text x="216.43" y="228.65" font-size="9.40" fill="#333" textLength="6.14" lengthAdjust="spacingAndGlyphs"  >6</text>
<text x="225.33" y="228.65" font-size="9.40" fill="#333" textLength="6.14" lengthAdjust="spacingAndGlyphs"  >6</text>
<text x="234.23" y="187.23" font-size="9.40" fill="#333" textLength="6.14" lengthAdjust="spacingAndGlyphs"  >4</text>
<text x="243.13" y="187.23" font-size="9.40" fill="#333" textLength="6.14" lengthAdjust="spacingAndGlyphs"  >4</text>
<text x="252.03" y="207.94" font-size="9.40" fill="#333" textLength="6.14" lengthAdjust="spacingAndGlyphs"  >5</text>
<text x="260.93" y="207.94" font-size="9.40" fill="#333" textLength="6.14" lengthAdjust="spacingAndGlyphs"  >5</text>
<text x="269.83" y="207.94" font-size="9.40" fill="#333" textLength="6.14" lengthAdjust="spacingAndGlyphs"  >5</text>
<text x="278.73" y="187.23" font-size="9.40" fill="#333" textLength="6.14" lengthAdjust="spacingAndGlyphs"  >4</text>
<text x="287.63" y="187.23" font-size="9.40" fill="#333" textLength="6.14" lengthAdjust="spacingAndGlyphs"  >4</text>
<text x="296.53" y="207.94" font-size="9.40" fill="#333" textLength="6.14" lengthAdjust="spacingAndGlyphs"  >5</text>
<text x="305.43" y="228.65" font-size="9.40" fill="#333" textLength="6.14" lengthAdjust="spacingAndGlyphs"  >6</text>
<text x="314.33" y="187.23" font-size="9.40" fill="#333" textLength="6.14" lengthAdjust="spacingAndGlyphs"  >4</text>
<text x="323.23" y="207.94" font-size="9.40" fill="#333" textLength="6.14" lengthAdjust="spacingAndGlyphs"  >5</text>
<text x="332.13" y="207.94" font-size="9.40" fill="#333" textLength="6.14" lengthAdjust="spacingAndGlyphs"  >5</text>
<text x="341.03" y="207.94" font-size="9.40" fill="#333" textLength="6.14" lengthAdjust="spacingAndGlyphs"  >5</text>
<text x="349.93" y="249.36" font-size="9.40" fill="#333" textLength="6.14" lengthAdjust="spacingAndGlyphs"  >7</text>
<text x="358.83" y="207.94" font-size="9.40" fill="#333" textLength="6.14" lengthAdjust="spacingAndGlyphs"  >5</text>
<text x="367.73" y="207.94" font-size="9.40" fill="#333" textLength="6.14" lengthAdjust="spacingAndGlyphs"  >5</text>
<text x="376.63" y="228.65" font-size="9.40" fill="#333" textLength="6.14" lengthAdjust="spacingAndGlyphs"  >6</text>
<text x="385.53" y="249.36" font-size="9.40" fill="#333" textLength="6.14" lengthAdjust="spacingAndGlyphs"  >7</text>
<text x="394.43" y="249.36" font-size="9.40" fill="#333" textLength="6.14" lengthAdjust="spacingAndGlyphs"  >7</text>
<text x="403.33" y="249.36" font-size="9.40" fill="#333" textLength="6.14" lengthAdjust="spacingAndGlyphs"  >7</text>
<text x="412.23" y="249.36" font-size="9.40" fill="#333" textLength="6.14" lengthAdjust="spacingAndGlyphs"  >7</text>
<text x="421.13" y="249.36" font-size="9.40" fill="#333" textLength="6.14" lengthAdjust="spacingAndGlyphs"  >7</text>
<text x="430.03" y="207.94" font-size="9.40" fill="#333" textLength="6.14" lengthAdjust="spacingAndGlyphs"  >5</text>
<text x="438.93" y="228.65" font-size="9.40" fill="#333" textLength="6.14" lengthAdjust="spacingAndGlyphs"  >6</text>
<text x="447.83" y="290.78" font-size="9.40" fill="#333" textLength="6.14" lengthAdjust="spacingAndGlyphs"  >9</text>
<text x="456.73" y="228.65" font-size="9.40" fill="#333" textLength="6.14" lengthAdjust="spacingAndGlyphs"  >6</text>
<text x="465.63" y="249.36" font-size="9.40" fill="#333" textLength="6.14" lengthAdjust="spacingAndGlyphs"  >7</text>
<text x="474.53" y="207.94" font-size="9.40" fill="#333" textLength="6.14" lengthAdjust="spacingAndGlyphs"  >5</text>
<text x="483.43" y="249.36" font-size="9.40" fill="#333" textLength="6.14" lengthAdjust="spacingAndGlyphs"  >7</text>
<text x="492.33" y="228.65" font-size="9.40" fill="#333" textLength="6.14" lengthAdjust="spacingAndGlyphs"  >6</text>
<text x="501.23" y="207.94" font-size="9.40" fill="#333" textLength="6.14" lengthAdjust="spacingAndGlyphs"  >5</text>
<text x="507.06" y="435.75" font-size="9.40" fill="#333" textLength="12.27" lengthAdjust="spacingAndGlyphs"  >16</text>
<text x="519.03" y="207.94" font-size="9.40" fill="#333" textLength="6.14" lengthAdjust="spacingAndGlyphs"  >5</text>
<text x="527.93" y="207.94" font-size="9.40" fill="#333" textLength="6.14" lengthAdjust="spacingAndGlyphs"  >5</text>
<text x="536.83" y="228.65" font-size="9.40" fill="#333" textLength="6.14" lengthAdjust="spacingAndGlyphs"  >6</text>
<text x="545.73" y="207.94" font-size="9.40" fill="#333" textLength="6.14" lengthAdjust="spacingAndGlyphs"  >5</text>
<text x="554.63" y="228.65" font-size="9.40" fill="#333" textLength="6.14" lengthAdjust="spacingAndGlyphs"  >6</text>
<text x="560.46" y="435.75" font-size="9.40" fill="#333" textLength="12.27" lengthAdjust="spacingAndGlyphs"  >16</text>
<text x="572.43" y="228.65" font-size="9.40" fill="#333" textLength="6.14" lengthAdjust="spacingAndGlyphs"  >6</text>
<text x="581.33" y="207.94" font-size="9.40" fill="#333" textLength="6.14" lengthAdjust="spacingAndGlyphs"  >5</text>
<text x="590.23" y="228.65" font-size="9.40" fill="#333" textLength="6.14" lengthAdjust="spacingAndGlyphs"  >6</text>
<text x="596.06" y="435.75" font-size="9.40" fill="#333" textLength="12.27" lengthAdjust="spacingAndGlyphs"  >16</text>
<text x="608.03" y="228.65" font-size="9.40" fill="#333" textLength="6.14" lengthAdjust="spacingAndGlyphs"  >6</text>
<text x="616.93" y="207.94" font-size="9.40" fill="#333" textLength="6.14" lengthAdjust="spacingAndGlyphs"  >5</text>
<text x="625.83" y="207.94" font-size="9.40" fill="#333" textLength="6.14" lengthAdjust="spacingAndGlyphs"  >5</text>
<text x="634.73" y="228.65" font-size="9.40" fill="#333" textLength="6.14" lengthAdjust="spacingAndGlyphs"  >6</text>
<text x="643.63" y="207.94" font-size="9.40" fill="#333" textLength="6.14" lengthAdjust="spacingAndGlyphs"  >5</text>
<text x="652.53" y="207.94" font-size="9.40" fill="#333" textLength="6.14" lengthAdjust="spacingAndGlyphs"  >5</text>
<text x="661.43" y="228.65" font-size="9.40" fill="#333" textLength="6.14" lengthAdjust="spacingAndGlyphs"  >6</text>
<text x="670.33" y="207.94" font-size="9.40" fill="#333" textLength="6.14" lengthAdjust="spacingAndGlyphs"  >5</text>
<text x="679.23" y="207.94" font-size="9.40" fill="#333" textLength="6.14" lengthAdjust="spacingAndGlyphs"  >5</text>
<text x="688.13" y="228.65" font-size="9.40" fill="#333" textLength="6.14" lengthAdjust="spacingAndGlyphs"  >6</text>
<text x="697.03" y="228.65" font-size="9.40" fill="#333" textLength="6.14" lengthAdjust="spacingAndGlyphs"  >6</text>
<text x="705.93" y="207.94" font-size="9.40" fill="#333" textLength="6.14" lengthAdjust="spacingAndGlyphs"  >5</text>
<text x="714.83" y="228.65" font-size="9.40" fill="#333" textLength="6.14" lengthAdjust="spacingAndGlyphs"  >6</text>
<text x="723.73" y="207.94" font-size="9.40" fill="#333" textLength="6.14" lengthAdjust="spacingAndGlyphs"  >5</text>
<text x="732.63" y="270.07" font-size="9.40" fill="#333" textLength="6.14" lengthAdjust="spacingAndGlyphs"  >8</text>
<text x="741.53" y="228.65" font-size="9.40" fill="#333" textLength="6.14" lengthAdjust="spacingAndGlyphs"  >6</text>
<text x="747.36" y="435.75" font-size="9.40" fill="#333" textLength="12.27" lengthAdjust="spacingAndGlyphs"  >16</text>
<text x="759.33" y="207.94" font-size="9.40" fill="#333" textLength="6.14" lengthAdjust="spacingAndGlyphs"  >5</text>
<text x="768.23" y="207.94" font-size="9.40" fill="#333" textLength="6.14" lengthAdjust="spacingAndGlyphs"  >5</text>
<text x="777.13" y="249.36" font-size="9.40" fill="#333" textLength="6.14" lengthAdjust="spacingAndGlyphs"  >7</text>
<text x="786.03" y="207.94" font-size="9.40" fill="#333" textLength="6.14" lengthAdjust="spacingAndGlyphs"  >5</text>
<text x="794.93" y="207.94" font-size="9.40" fill="#333" textLength="6.14" lengthAdjust="spacingAndGlyphs"  >5</text>
<text x="803.83" y="207.94" font-size="9.40" fill="#333" textLength="6.14" lengthAdjust="spacingAndGlyphs"  >5</text>
<text x="812.73" y="207.94" font-size="9.40" fill="#333" textLength="6.14" lengthAdjust="spacingAndGlyphs"  >5</text>
<text x="821.63" y="207.94" font-size="9.40" fill="#333" textLength="6.14" lengthAdjust="spacingAndGlyphs"  >5</text>
<text x="830.53" y="207.94" font-size="9.40" fill="#333" textLength="6.14" lengthAdjust="spacingAndGlyphs"  >5</text>
<text x="839.43" y="228.65" font-size="9.40" fill="#333" textLength="6.14" lengthAdjust="spacingAndGlyphs"  >6</text>
<text x="848.33" y="270.07" font-size="9.40" fill="#333" textLength="6.14" lengthAdjust="spacingAndGlyphs"  >8</text>
<text x="857.23" y="228.65" font-size="9.40" fill="#333" textLength="6.14" lengthAdjust="spacingAndGlyphs"  >6</text>
<text x="866.13" y="228.65" font-size="9.40" fill="#333" textLength="6.14" lengthAdjust="spacingAndGlyphs"  >6</text>
<text x="56.23" y="168.72" font-size="9.40" fill="#333" textLength="6.14" lengthAdjust="spacingAndGlyphs"  >3</text>
<text x="65.13" y="168.72" font-size="9.40" fill="#333" textLength="6.14" lengthAdjust="spacingAndGlyphs"  >3</text>
<text x="74.03" y="168.72" font-size="9.40" fill="#333" textLength="6.14" lengthAdjust="spacingAndGlyphs"  >3</text>
<text x="82.93" y="148.01" font-size="9.40" fill="#333" textLength="6.14" lengthAdjust="spacingAndGlyphs"  >2</text>
<text x="91.83" y="148.01" font-size="9.40" fill="#333" textLength="6.14" lengthAdjust="spacingAndGlyphs"  >2</text>
<text x="100.73" y="148.01" font-size="9.40" fill="#333" textLength="6.14" lengthAdjust="spacingAndGlyphs"  >2</text>
<text x="109.63" y="148.01" font-size="9.40" fill="#333" textLength="6.14" lengthAdjust="spacingAndGlyphs"  >2</text>
<text x="118.53" y="168.72" font-size="9.40" fill="#333" textLength="6.14" lengthAdjust="spacingAndGlyphs"  >3</text>
<text x="127.43" y="148.01" font-size="9.40" fill="#333" textLength="6.14" lengthAdjust="spacingAndGlyphs"  >2</text>
<text x="136.33" y="148.01" font-size="9.40" fill="#333" textLength="6.14" lengthAdjust="spacingAndGlyphs"  >2</text>
<text x="145.23" y="148.01" font-size="9.40" fill="#333" textLength="6.14" lengthAdjust="spacingAndGlyphs"  >2</text>
<text x="154.13" y="168.72" font-size="9.40" fill="#333" textLength="6.14" lengthAdjust="spacingAndGlyphs"  >3</text>
<text x="163.03" y="168.72" font-size="9.40" fill="#333" textLength="6.14" lengthAdjust="spacingAndGlyphs"  >3</text>
<text x="171.93" y="168.72" font-size="9.40" fill="#333" textLength="6.14" lengthAdjust="spacingAndGlyphs"  >3</text>
<text x="180.83" y="168.72" font-size="9.40" fill="#333" textLength="6.14" lengthAdjust="spacingAndGlyphs"  >3</text>
<text x="189.73" y="148.01" font-size="9.40" fill="#333" textLength="6.14" lengthAdjust="spacingAndGlyphs"  >2</text>
<text x="198.63" y="168.72" font-size="9.40" fill="#333" textLength="6.14" lengthAdjust="spacingAndGlyphs"  >3</text>
<text x="207.53" y="148.01" font-size="9.40" fill="#333" textLength="6.14" lengthAdjust="spacingAndGlyphs"  >2</text>
<text x="216.43" y="148.01" font-size="9.40" fill="#333" textLength="6.14" lengthAdjust="spacingAndGlyphs"  >2</text>
<text x="225.33" y="168.72" font-size="9.40" fill="#333" textLength="6.14" lengthAdjust="spacingAndGlyphs"  >3</text>
<text x="234.23" y="148.01" font-size="9.40" fill="#333" textLength="6.14" lengthAdjust="spacingAndGlyphs"  >2</text>
<text x="243.13" y="148.01" font-size="9.40" fill="#333" textLength="6.14" lengthAdjust="spacingAndGlyphs"  >2</text>
<text x="252.03" y="148.01" font-size="9.40" fill="#333" textLength="6.14" lengthAdjust="spacingAndGlyphs"  >2</text>
<text x="260.93" y="148.01" font-size="9.40" fill="#333" textLength="6.14" lengthAdjust="spacingAndGlyphs"  >2</text>
<text x="269.83" y="148.01" font-size="9.40" fill="#333" textLength="6.14" lengthAdjust="spacingAndGlyphs"  >2</text>
<text x="278.73" y="148.01" font-size="9.40" fill="#333" textLength="6.14" lengthAdjust="spacingAndGlyphs"  >2</text>
<text x="287.63" y="148.01" font-size="9.40" fill="#333" textLength="6.14" lengthAdjust="spacingAndGlyphs"  >2</text>
<text x="296.53" y="148.01" font-size="9.40" fill="#333" textLength="6.14" lengthAdjust="spacingAndGlyphs"  >2</text>
<text x="305.43" y="148.01" font-size="9.40" fill="#333" textLength="6.14" lengthAdjust="spacingAndGlyphs"  >2</text>
<text x="314.33" y="148.01" font-size="9.40" fill="#333" textLength="6.14" lengthAdjust="spacingAndGlyphs"  >2</text>
<text x="323.23" y="148.01" font-size="9.40" fill="#333" textLength="6.14" lengthAdjust="spacingAndGlyphs"  >2</text>
<text x="332.13" y="148.01" font-size="9.40" fill="#333" textLength="6.14" lengthAdjust="spacingAndGlyphs"  >2</text>
<text x="341.03" y="148.01" font-size="9.40" fill="#333" textLength="6.14" lengthAdjust="spacingAndGlyphs"  >2</text>
<text x="349.93" y="148.01" font-size="9.40" fill="#333" textLength="6.14" lengthAdjust="spacingAndGlyphs"  >2</text>
<text x="358.83" y="148.01" font-size="9.40" fill="#333" textLength="6.14" lengthAdjust="spacingAndGlyphs"  >2</text>
<text x="367.73" y="148.01" font-size="9.40" fill="#333" textLength="6.14" lengthAdjust="spacingAndGlyphs"  >2</text>
<text x="376.63" y="148.01" font-size="9.40" fill="#333" textLength="6.14" lengthAdjust="spacingAndGlyphs"  >2</text>
<text x="385.53" y="148.01" font-size="9.40" fill="#333" textLength="6.14" lengthAdjust="spacingAndGlyphs"  >2</text>
<text x="394.43" y="148.01" font-size="9.40" fill="#333" textLength="6.14" lengthAdjust="spacingAndGlyphs"  >2</text>
<text x="403.33" y="148.01" font-size="9.40" fill="#333" textLength="6.14" lengthAdjust="spacingAndGlyphs"  >2</text>
<text x="412.23" y="148.01" font-size="9.40" fill="#333" textLength="6.14" lengthAdjust="spacingAndGlyphs"  >2</text>
<text x="421.13" y="148.01" font-size="9.40" fill="#333" textLength="6.14" lengthAdjust="spacingAndGlyphs"  >2</text>
<text x="430.03" y="148.01" font-size="9.40" fill="#333" textLength="6.14" lengthAdjust="spacingAndGlyphs"  >2</text>
<text x="438.93" y="148.01" font-size="9.40" fill="#333" textLength="6.14" lengthAdjust="spacingAndGlyphs"  >2</text>
<text x="447.83" y="168.72" font-size="9.40" fill="#333" textLength="6.14" lengthAdjust="spacingAndGlyphs"  >3</text>
<text x="456.73" y="148.01" font-size="9.40" fill="#333" textLength="6.14" lengthAdjust="spacingAndGlyphs"  >2</text>
<text x="465.63" y="148.01" font-size="9.40" fill="#333" textLength="6.14" lengthAdjust="spacingAndGlyphs"  >2</text>
<text x="474.53" y="148.01" font-size="9.40" fill="#333" textLength="6.14" lengthAdjust="spacingAndGlyphs"  >2</text>
<text x="483.43" y="148.01" font-size="9.40" fill="#333" textLength="6.14" lengthAdjust="spacingAndGlyphs"  >2</text>
<text x="492.33" y="148.01" font-size="9.40" fill="#333" textLength="6.14" lengthAdjust="spacingAndGlyphs"  >2</text>
<text x="501.23" y="148.01" font-size="9.40" fill="#333" textLength="6.14" lengthAdjust="spacingAndGlyphs"  >2</text>
<text x="510.13" y="148.01" font-size="9.40" fill="#333" textLength="6.14" lengthAdjust="spacingAndGlyphs"  >2</text>
<text x="519.03" y="148.01" font-size="9.40" fill="#333" textLength="6.14" lengthAdjust="spacingAndGlyphs"  >2</text>
<text x="527.93" y="148.01" font-size="9.40" fill="#333" textLength="6.14" lengthAdjust="spacingAndGlyphs"  >2</text>
<text x="536.83" y="148.01" font-size="9.40" fill="#333" textLength="6.14" lengthAdjust="spacingAndGlyphs"  >2</text>
<text x="545.73" y="148.01" font-size="9.40" fill="#333" textLength="6.14" lengthAdjust="spacingAndGlyphs"  >2</text>
<text x="554.63" y="148.01" font-size="9.40" fill="#333" textLength="6.14" lengthAdjust="spacingAndGlyphs"  >2</text>
<text x="563.53" y="148.01" font-size="9.40" fill="#333" textLength="6.14" lengthAdjust="spacingAndGlyphs"  >2</text>
<text x="572.43" y="148.01" font-size="9.40" fill="#333" textLength="6.14" lengthAdjust="spacingAndGlyphs"  >2</text>
<text x="581.33" y="148.01" font-size="9.40" fill="#333" textLength="6.14" lengthAdjust="spacingAndGlyphs"  >2</text>
<text x="590.23" y="148.01" font-size="9.40" fill="#333" textLength="6.14" lengthAdjust="spacingAndGlyphs"  >2</text>
<text x="599.13" y="148.01" font-size="9.40" fill="#333" textLength="6.14" lengthAdjust="spacingAndGlyphs"  >2</text>
<text x="608.03" y="148.01" font-size="9.40" fill="#333" textLength="6.14" lengthAdjust="spacingAndGlyphs"  >2</text>
<text x="616.93" y="148.01" font-size="9.40" fill="#333" textLength="6.14" lengthAdjust="spacingAndGlyphs"  >2</text>
<text x="625.83" y="148.01" font-size="9.40" fill="#333" textLength="6.14" lengthAdjust="spacingAndGlyphs"  >2</text>
<text x="634.73" y="148.01" font-size="9.40" fill="#333" textLength="6.14" lengthAdjust="spacingAndGlyphs"  >2</text>
<text x="643.63" y="148.01" font-size="9.40" fill="#333" textLength="6.14" lengthAdjust="spacingAndGlyphs"  >2</text>
<text x="652.53" y="148.01" font-size="9.40" fill="#333" textLength="6.14" lengthAdjust="spacingAndGlyphs"  >2</text>
<text x="661.43" y="148.01" font-size="9.40" fill="#333" textLength="6.14" lengthAdjust="spacingAndGlyphs"  >2</text>
<text x="670.33" y="148.01" font-size="9.40" fill="#333" textLength="6.14" lengthAdjust="spacingAndGlyphs"  >2</text>
<text x="679.23" y="148.01" font-size="9.40" fill="#333" textLength="6.14" lengthAdjust="spacingAndGlyphs"  >2</text>
<text x="688.13" y="148.01" font-size="9.40" fill="#333" textLength="6.14" lengthAdjust="spacingAndGlyphs"  >2</text>
<text x="697.03" y="148.01" font-size="9.40" fill="#333" textLength="6.14" lengthAdjust="spacingAndGlyphs"  >2</text>
<text x="705.93" y="148.01" font-size="9.40" fill="#333" textLength="6.14" lengthAdjust="spacingAndGlyphs"  >2</text>
<text x="714.83" y="148.01" font-size="9.40" fill="#333" textLength="6.14" lengthAdjust="spacingAndGlyphs"  >2</text>
<text x="723.73" y="148.01" font-size="9.40" fill="#333" textLength="6.14" lengthAdjust="spacingAndGlyphs"  >2</text>
<text x="732.63" y="148.01" font-size="9.40" fill="#333" textLength="6.14" lengthAdjust="spacingAndGlyphs"  >2</text>
<text x="741.53" y="148.01" font-size="9.40" fill="#333" textLength="6.14" lengthAdjust="spacingAndGlyphs"  >2</text>
<text x="750.43" y="148.01" font-size="9.40" fill="#333" textLength="6.14" lengthAdjust="spacingAndGlyphs"  >2</text>
<text x="759.33" y="148.01" font-size="9.40" fill="#333" textLength="6.14" lengthAdjust="spacingAndGlyphs"  >2</text>
<text x="768.23" y="148.01" font-size="9.40" fill="#333" textLength="6.14" lengthAdjust="spacingAndGlyphs"  >2</text>
<text x="777.13" y="148.01" font-size="9.40" fill="#333" textLength="6.14" lengthAdjust="spacingAndGlyphs"  >2</text>
<text x="786.03" y="148.01" font-size="9.40" fill="#333" textLength="6.14" lengthAdjust="spacingAndGlyphs"  >2</text>
<text x="794.93" y="148.01" font-size="9.40" fill="#333" textLength="6.14" lengthAdjust="spacingAndGlyphs"  >2</text>
<text x="803.83" y="148.01" font-size="9.40" fill="#333" textLength="6.14" lengthAdjust="spacingAndGlyphs"  >2</text>
<text x="812.73" y="148.01" font-size="9.40" fill="#333" textLength="6.14" lengthAdjust="spacingAndGlyphs"  >2</text>
<text x="821.63" y="148.01" font-size="9.40" fill="#333" textLength="6.14" lengthAdjust="spacingAndGlyphs"  >2</text>
<text x="830.53" y="148.01" font-size="9.40" fill="#333" textLength="6.14" lengthAdjust="spacingAndGlyphs"  >2</text>
<text x="839.43" y="148.01" font-size="9.40" fill="#333" textLength="6.14" lengthAdjust="spacingAndGlyphs"  >2</text>
<text x="848.33" y="148.01" font-size="9.40" fill="#333" textLength="6.14" lengthAdjust="spacingAndGlyphs"  >2</text>
<text x="857.23" y="148.01" font-size="9.40" fill="#333" textLength="6.14" lengthAdjust="spacingAndGlyphs"  >2</text>
<text x="866.13" y="148.01" font-size="9.40" fill="#333" textLength="6.14" lengthAdjust="spacingAndGlyphs"  >2</text>
<text x="56.23" y="228.65" font-size="9.40" fill="#333" textLength="6.14" lengthAdjust="spacingAndGlyphs"  >6</text>
<text x="65.13" y="187.23" font-size="9.40" fill="#333" textLength="6.14" lengthAdjust="spacingAndGlyphs"  fill-opacity="0.5">4</text>
<text x="74.03" y="207.94" font-size="9.40" fill="#333" textLength="6.14" lengthAdjust="spacingAndGlyphs"  >5</text>
<text x="82.93" y="228.65" font-size="9.40" fill="#333" textLength="6.14" lengthAdjust="spacingAndGlyphs"  >6</text>
<text x="91.83" y="228.65" font-size="9.40" fill="#333" textLength="6.14" lengthAdjust="spacingAndGlyphs"  >6</text>
<text x="100.73" y="290.78" font-size="9.40" fill="#333" textLength="6.14" lengthAdjust="spacingAndGlyphs"  >9</text>
<text x="109.63" y="166.52" font-size="9.40" fill="#333" textLength="6.14" lengthAdjust="spacingAndGlyphs"  >3</text>
<text x="118.53" y="228.65" font-size="9.40" fill="#333" textLength="6.14" lengthAdjust="spacingAndGlyphs"  >6</text>
<text x="127.43" y="187.23" font-size="9.40" fill="#333" textLength="6.14" lengthAdjust="spacingAndGlyphs"  >4</text>
<text x="136.33" y="166.52" font-size="9.40" fill="#333" textLength="6.14" lengthAdjust="spacingAndGlyphs"  >3</text>
<text x="145.23" y="166.52" font-size="9.40" fill="#333" textLength="6.14" lengthAdjust="spacingAndGlyphs"  >3</text>
<text x="151.06" y="352.91" font-size="9.40" fill="#333" textLength="12.27" lengthAdjust="spacingAndGlyphs"  >12</text>
<text x="163.03" y="207.94" font-size="9.40" fill="#333" textLength="6.14" lengthAdjust="spacingAndGlyphs"  fill-opacity="0.5">5</text>
<text x="168.86" y="311.49" font-size="9.40" fill="#333" textLength="12.27" lengthAdjust="spacingAndGlyphs"  >10</text>
<text x="180.83" y="290.78" font-size="9.40" fill="#333" textLength="6.14" lengthAdjust="spacingAndGlyphs"  >9</text>
<text x="189.73" y="290.78" font-size="9.40" fill="#333" textLength="6.14" lengthAdjust="spacingAndGlyphs"  >9</text>
<text x="195.56" y="332.20" font-size="9.40" fill="#333" textLength="12.27" lengthAdjust="spacingAndGlyphs"  >11</text>
<text x="204.46" y="311.49" font-size="9.40" fill="#333" textLength="12.27" lengthAdjust="spacingAndGlyphs"  >10</text>
<text x="213.36" y="311.49" font-size="9.40" fill="#333" textLength="12.27" lengthAdjust="spacingAndGlyphs"  >10</text>
<text x="225.33" y="166.52" font-size="9.40" fill="#333" textLength="6.14" lengthAdjust="spacingAndGlyphs"  fill-opacity="0.5">3</text>
<text x="234.23" y="228.65" font-size="9.40" fill="#333" textLength="6.14" lengthAdjust="spacingAndGlyphs"  >6</text>
<text x="243.13" y="187.23" font-size="9.40" fill="#333" textLength="6.14" lengthAdjust="spacingAndGlyphs"  fill-opacity="0.5">4</text>
<text x="252.03" y="166.52" font-size="9.40" fill="#333" textLength="6.14" lengthAdjust="spacingAndGlyphs"  >3</text>
<text x="260.93" y="166.52" font-size="9.40" fill="#333" textLength="6.14" lengthAdjust="spacingAndGlyphs"  >3</text>
<text x="269.83" y="166.52" font-size="9.40" fill="#333" textLength="6.14" lengthAdjust="spacingAndGlyphs"  >3</text>
<text x="278.73" y="187.23" font-size="9.40" fill="#333" textLength="6.14" lengthAdjust="spacingAndGlyphs"  fill-opacity="0.5">4</text>
<text x="287.63" y="187.23" font-size="9.40" fill="#333" textLength="6.14" lengthAdjust="spacingAndGlyphs"  fill-opacity="0.5">4</text>
<text x="296.53" y="187.23" font-size="9.40" fill="#333" textLength="6.14" lengthAdjust="spacingAndGlyphs"  >4</text>
<text x="305.43" y="207.94" font-size="9.40" fill="#333" textLength="6.14" lengthAdjust="spacingAndGlyphs"  >5</text>
<text x="314.33" y="166.52" font-size="9.40" fill="#333" textLength="6.14" lengthAdjust="spacingAndGlyphs"  >3</text>
<text x="323.23" y="145.81" font-size="9.40" fill="#333" textLength="6.14" lengthAdjust="spacingAndGlyphs"  fill-opacity="0.5">2</text>
<text x="332.13" y="228.65" font-size="9.40" fill="#333" textLength="6.14" lengthAdjust="spacingAndGlyphs"  >6</text>
<text x="341.03" y="145.81" font-size="9.40" fill="#333" textLength="6.14" lengthAdjust="spacingAndGlyphs"  fill-opacity="0.5">2</text>
<text x="349.93" y="166.52" font-size="9.40" fill="#333" textLength="6.14" lengthAdjust="spacingAndGlyphs"  >3</text>
<text x="358.83" y="187.23" font-size="9.40" fill="#333" textLength="6.14" lengthAdjust="spacingAndGlyphs"  >4</text>
<text x="367.73" y="166.52" font-size="9.40" fill="#333" textLength="6.14" lengthAdjust="spacingAndGlyphs"  >3</text>
<text x="376.63" y="228.65" font-size="9.40" fill="#333" textLength="6.14" lengthAdjust="spacingAndGlyphs"  fill-opacity="0.5">6</text>
<text x="385.53" y="166.52" font-size="9.40" fill="#333" textLength="6.14" lengthAdjust="spacingAndGlyphs"  >3</text>
<text x="394.43" y="270.07" font-size="9.40" fill="#333" textLength="6.14" lengthAdjust="spacingAndGlyphs"  >8</text>
<text x="403.33" y="228.65" font-size="9.40" fill="#333" textLength="6.14" lengthAdjust="spacingAndGlyphs"  >6</text>
<text x="412.23" y="270.07" font-size="9.40" fill="#333" textLength="6.14" lengthAdjust="spacingAndGlyphs"  >8</text>
<text x="421.13" y="270.07" font-size="9.40" fill="#333" textLength="6.14" lengthAdjust="spacingAndGlyphs"  >8</text>
<text x="430.03" y="187.23" font-size="9.40" fill="#333" textLength="6.14" lengthAdjust="spacingAndGlyphs"  >4</text>
<text x="438.93" y="290.78" font-size="9.40" fill="#333" textLength="6.14" lengthAdjust="spacingAndGlyphs"  >9</text>
<text x="447.83" y="290.78" font-size="9.40" fill="#333" textLength="6.14" lengthAdjust="spacingAndGlyphs"  fill-opacity="0.5">9</text>
<text x="456.73" y="290.78" font-size="9.40" fill="#333" textLength="6.14" lengthAdjust="spacingAndGlyphs"  >9</text>
<text x="465.63" y="187.23" font-size="9.40" fill="#333" textLength="6.14" lengthAdjust="spacingAndGlyphs"  >4</text>
<text x="474.53" y="270.07" font-size="9.40" fill="#333" textLength="6.14" lengthAdjust="spacingAndGlyphs"  >8</text>
<text x="480.36" y="352.91" font-size="9.40" fill="#333" textLength="12.27" lengthAdjust="spacingAndGlyphs"  >12</text>
<text x="492.33" y="270.07" font-size="9.40" fill="#333" textLength="6.14" lengthAdjust="spacingAndGlyphs"  >8</text>
<text x="501.23" y="249.36" font-size="9.40" fill="#333" textLength="6.14" lengthAdjust="spacingAndGlyphs"  >7</text>
<text x="510.13" y="207.94" font-size="9.40" fill="#333" textLength="6.14" lengthAdjust="spacingAndGlyphs"  >5</text>
<text x="519.03" y="166.52" font-size="9.40" fill="#333" textLength="6.14" lengthAdjust="spacingAndGlyphs"  >3</text>
<text x="527.93" y="187.23" font-size="9.40" fill="#333" textLength="6.14" lengthAdjust="spacingAndGlyphs"  >4</text>
<text x="536.83" y="207.94" font-size="9.40" fill="#333" textLength="6.14" lengthAdjust="spacingAndGlyphs"  >5</text>
<text x="545.73" y="207.94" font-size="9.40" fill="#333" textLength="6.14" lengthAdjust="spacingAndGlyphs"  fill-opacity="0.5">5</text>
<text x="554.63" y="228.65" font-size="9.40" fill="#333" textLength="6.14" lengthAdjust="spacingAndGlyphs"  fill-opacity="0.5">6</text>
<text x="563.53" y="207.94" font-size="9.40" fill="#333" textLength="6.14" lengthAdjust="spacingAndGlyphs"  >5</text>
<text x="572.43" y="228.65" font-size="9.40" fill="#333" textLength="6.14" lengthAdjust="spacingAndGlyphs"  fill-opacity="0.5">6</text>
<text x="581.33" y="207.94" font-size="9.40" fill="#333" textLength="6.14" lengthAdjust="spacingAndGlyphs"  fill-opacity="0.5">5</text>
<text x="590.23" y="228.65" font-size="9.40" fill="#333" textLength="6.14" lengthAdjust="spacingAndGlyphs"  fill-opacity="0.5">6</text>
<text x="599.13" y="207.94" font-size="9.40" fill="#333" textLength="6.14" lengthAdjust="spacingAndGlyphs"  >5</text>
<text x="608.03" y="228.65" font-size="9.40" fill="#333" textLength="6.14" lengthAdjust="spacingAndGlyphs"  fill-opacity="0.5">6</text>
<text x="616.93" y="207.94" font-size="9.40" fill="#333" textLength="6.14" lengthAdjust="spacingAndGlyphs"  fill-opacity="0.5">5</text>
<text x="625.83" y="228.65" font-size="9.40" fill="#333" textLength="6.14" lengthAdjust="spacingAndGlyphs"  >6</text>
<text x="634.73" y="207.94" font-size="9.40" fill="#333" textLength="6.14" lengthAdjust="spacingAndGlyphs"  >5</text>
<text x="643.63" y="228.65" font-size="9.40" fill="#333" textLength="6.14" lengthAdjust="spacingAndGlyphs"  >6</text>
<text x="652.53" y="207.94" font-size="9.40" fill="#333" textLength="6.14" lengthAdjust="spacingAndGlyphs"  fill-opacity="0.5">5</text>
<text x="661.43" y="207.94" font-size="9.40" fill="#333" textLength="6.14" lengthAdjust="spacingAndGlyphs"  >5</text>
<text x="670.33" y="166.52" font-size="9.40" fill="#333" textLength="6.14" lengthAdjust="spacingAndGlyphs"  >3</text>
<text x="679.23" y="145.81" font-size="9.40" fill="#333" textLength="6.14" lengthAdjust="spacingAndGlyphs"  fill-opacity="0.5">2</text>
<text x="688.13" y="166.52" font-size="9.40" fill="#333" textLength="6.14" lengthAdjust="spacingAndGlyphs"  >3</text>
<text x="697.03" y="207.94" font-size="9.40" fill="#333" textLength="6.14" lengthAdjust="spacingAndGlyphs"  >5</text>
<text x="705.93" y="249.36" font-size="9.40" fill="#333" textLength="6.14" lengthAdjust="spacingAndGlyphs"  >7</text>
<text x="714.83" y="207.94" font-size="9.40" fill="#333" textLength="6.14" lengthAdjust="spacingAndGlyphs"  >5</text>
<text x="723.73" y="228.65" font-size="9.40" fill="#333" textLength="6.14" lengthAdjust="spacingAndGlyphs"  >6</text>
<text x="732.63" y="228.65" font-size="9.40" fill="#333" textLength="6.14" lengthAdjust="spacingAndGlyphs"  >6</text>
<text x="741.53" y="228.65" font-size="9.40" fill="#333" textLength="6.14" lengthAdjust="spacingAndGlyphs"  fill-opacity="0.5">6</text>
<text x="750.43" y="249.36" font-size="9.40" fill="#333" textLength="6.14" lengthAdjust="spacingAndGlyphs"  >7</text>
<text x="759.33" y="228.65" font-size="9.40" fill="#333" textLength="6.14" lengthAdjust="spacingAndGlyphs"  >6</text>
<text x="768.23" y="249.36" font-size="9.40" fill="#333" textLength="6.14" lengthAdjust="spacingAndGlyphs"  >7</text>
<text x="774.06" y="311.49" font-size="9.40" fill="#333" textLength="12.27" lengthAdjust="spacingAndGlyphs"  >10</text>
<text x="782.96" y="332.20" font-size="9.40" fill="#333" textLength="12.27" lengthAdjust="spacingAndGlyphs"  >11</text>
<text x="794.93" y="207.94" font-size="9.40" fill="#333" textLength="6.14" lengthAdjust="spacingAndGlyphs"  fill-opacity="0.5">5</text>
<text x="803.83" y="270.07" font-size="9.40" fill="#333" textLength="6.14" lengthAdjust="spacingAndGlyphs"  >8</text>
<text x="809.66" y="352.91" font-size="9.40" fill="#333" textLength="12.27" lengthAdjust="spacingAndGlyphs"  >12</text>
<text x="818.56" y="352.91" font-size="9.40" fill="#333" textLength="12.27" lengthAdjust="spacingAndGlyphs"  >12</text>
<text x="830.53" y="207.94" font-size="9.40" fill="#333" textLength="6.14" lengthAdjust="spacingAndGlyphs"  fill-opacity="0.5">5</text>
<text x="839.43" y="187.23" font-size="9.40" fill="#333" textLength="6.14" lengthAdjust="spacingAndGlyphs"  >4</text>
<text x="845.26" y="352.91" font-size="9.40" fill="#333" textLength="12.27" lengthAdjust="spacingAndGlyphs"  >12</text>
<text x="854.16" y="456.46" font-size="9.40" fill="#333" textLength="12.27" lengthAdjust="spacingAndGlyphs"  >17</text>
<text x="863.06" y="373.62" font-size="9.40" fill="#333" textLength="12.27" lengthAdjust="spacingAndGlyphs"  >13</text>
<text x="56.23" y="148.01" font-size="9.40" fill="#333" textLength="6.14" lengthAdjust="spacingAndGlyphs"  >2</text>
<text x="65.13" y="148.01" font-size="9.40" fill="#333" textLength="6.14" lengthAdjust="spacingAndGlyphs"  >2</text>
<text x="74.03" y="148.01" font-size="9.40" fill="#333" textLength="6.14" lengthAdjust="spacingAndGlyphs"  >2</text>
<text x="82.93" y="148.01" font-size="9.40" fill="#333" textLength="6.14" lengthAdjust="spacingAndGlyphs"  fill-opacity="0.5">2</text>
<text x="91.83" y="148.01" font-size="9.40" fill="#333" textLength="6.14" lengthAdjust="spacingAndGlyphs"  fill-opacity="0.5">2</text>
<text x="100.73" y="148.01" font-size="9.40" fill="#333" textLength="6.14" lengthAdjust="spacingAndGlyphs"  fill-opacity="0.5">2</text>
<text x="109.63" y="148.01" font-size="9.40" fill="#333" textLength="6.14" lengthAdjust="spacingAndGlyphs"  fill-opacity="0.5">2</text>
<text x="118.53" y="148.01" font-size="9.40" fill="#333" textLength="6.14" lengthAdjust="spacingAndGlyphs"  >2</text>
<text x="127.43" y="148.01" font-size="9.40" fill="#333" textLength="6.14" lengthAdjust="spacingAndGlyphs"  fill-opacity="0.5">2</text>
<text x="136.33" y="148.01" font-size="9.40" fill="#333" textLength="6.14" lengthAdjust="spacingAndGlyphs"  fill-opacity="0.5">2</text>
<text x="145.23" y="148.01" font-size="9.40" fill="#333" textLength="6.14" lengthAdjust="spacingAndGlyphs"  fill-opacity="0.5">2</text>
<text x="154.13" y="148.01" font-size="9.40" fill="#333" textLength="6.14" lengthAdjust="spacingAndGlyphs"  >2</text>
<text x="163.03" y="148.01" font-size="9.40" fill="#333" textLength="6.14" lengthAdjust="spacingAndGlyphs"  >2</text>
<text x="171.93" y="148.01" font-size="9.40" fill="#333" textLength="6.14" lengthAdjust="spacingAndGlyphs"  >2</text>
<text x="180.83" y="148.01" font-size="9.40" fill="#333" textLength="6.14" lengthAdjust="spacingAndGlyphs"  >2</text>
<text x="189.73" y="148.01" font-size="9.40" fill="#333" textLength="6.14" lengthAdjust="spacingAndGlyphs"  fill-opacity="0.5">2</text>
<text x="198.63" y="148.01" font-size="9.40" fill="#333" textLength="6.14" lengthAdjust="spacingAndGlyphs"  >2</text>
<text x="207.53" y="148.01" font-size="9.40" fill="#333" textLength="6.14" lengthAdjust="spacingAndGlyphs"  fill-opacity="0.5">2</text>
<text x="216.43" y="148.01" font-size="9.40" fill="#333" textLength="6.14" lengthAdjust="spacingAndGlyphs"  fill-opacity="0.5">2</text>
<text x="225.33" y="148.01" font-size="9.40" fill="#333" textLength="6.14" lengthAdjust="spacingAndGlyphs"  >2</text>
<text x="234.23" y="148.01" font-size="9.40" fill="#333" textLength="6.14" lengthAdjust="spacingAndGlyphs"  fill-opacity="0.5">2</text>
<text x="243.13" y="148.01" font-size="9.40" fill="#333" textLength="6.14" lengthAdjust="spacingAndGlyphs"  fill-opacity="0.5">2</text>
<text x="252.03" y="148.01" font-size="9.40" fill="#333" textLength="6.14" lengthAdjust="spacingAndGlyphs"  fill-opacity="0.5">2</text>
<text x="260.93" y="148.01" font-size="9.40" fill="#333" textLength="6.14" lengthAdjust="spacingAndGlyphs"  fill-opacity="0.5">2</text>
<text x="269.83" y="148.01" font-size="9.40" fill="#333" textLength="6.14" lengthAdjust="spacingAndGlyphs"  fill-opacity="0.5">2</text>
<text x="278.73" y="148.01" font-size="9.40" fill="#333" textLength="6.14" lengthAdjust="spacingAndGlyphs"  fill-opacity="0.5">2</text>
<text x="287.63" y="148.01" font-size="9.40" fill="#333" textLength="6.14" lengthAdjust="spacingAndGlyphs"  fill-opacity="0.5">2</text>
<text x="296.53" y="148.01" font-size="9.40" fill="#333" textLength="6.14" lengthAdjust="spacingAndGlyphs"  fill-opacity="0.5">2</text>
<text x="305.43" y="148.01" font-size="9.40" fill="#333" textLength="6.14" lengthAdjust="spacingAndGlyphs"  fill-opacity="0.5">2</text>
<text x="314.33" y="148.01" font-size="9.40" fill="#333" textLength="6.14" lengthAdjust="spacingAndGlyphs"  fill-opacity="0.5">2</text>
<text x="323.23" y="168.72" font-size="9.40" fill="#333" textLength="6.14" lengthAdjust="spacingAndGlyphs"  >3</text>
<text x="332.13" y="148.01" font-size="9.40" fill="#333" textLength="6.14" lengthAdjust="spacingAndGlyphs"  fill-opacity="0.5">2</text>
<text x="341.03" y="168.72" font-size="9.40" fill="#333" textLength="6.14" lengthAdjust="spacingAndGlyphs"  >3</text>
<text x="349.93" y="148.01" font-size="9.40" fill="#333" textLength="6.14" lengthAdjust="spacingAndGlyphs"  fill-opacity="0.5">2</text>
<text x="358.83" y="148.01" font-size="9.40" fill="#333" textLength="6.14" lengthAdjust="spacingAndGlyphs"  fill-opacity="0.5">2</text>
<text x="367.73" y="148.01" font-size="9.40" fill="#333" textLength="6.14" lengthAdjust="spacingAndGlyphs"  fill-opacity="0.5">2</text>
<text x="376.63" y="148.01" font-size="9.40" fill="#333" textLength="6.14" lengthAdjust="spacingAndGlyphs"  fill-opacity="0.5">2</text>
<text x="385.53" y="148.01" font-size="9.40" fill="#333" textLength="6.14" lengthAdjust="spacingAndGlyphs"  fill-opacity="0.5">2</text>
<text x="394.43" y="148.01" font-size="9.40" fill="#333" textLength="6.14" lengthAdjust="spacingAndGlyphs"  fill-opacity="0.5">2</text>
<text x="403.33" y="148.01" font-size="9.40" fill="#333" textLength="6.14" lengthAdjust="spacingAndGlyphs"  fill-opacity="0.5">2</text>
<text x="412.23" y="148.01" font-size="9.40" fill="#333" textLength="6.14" lengthAdjust="spacingAndGlyphs"  fill-opacity="0.5">2</text>
<text x="421.13" y="148.01" font-size="9.40" fill="#333" textLength="6.14" lengthAdjust="spacingAndGlyphs"  fill-opacity="0.5">2</text>
<text x="430.03" y="148.01" font-size="9.40" fill="#333" textLength="6.14" lengthAdjust="spacingAndGlyphs"  fill-opacity="0.5">2</text>
<text x="438.93" y="148.01" font-size="9.40" fill="#333" textLength="6.14" lengthAdjust="spacingAndGlyphs"  fill-opacity="0.5">2</text>
<text x="447.83" y="148.01" font-size="9.40" fill="#333" textLength="6.14" lengthAdjust="spacingAndGlyphs"  >2</text>
<text x="456.73" y="148.01" font-size="9.40" fill="#333" textLength="6.14" lengthAdjust="spacingAndGlyphs"  fill-opacity="0.5">2</text>
<text x="465.63" y="148.01" font-size="9.40" fill="#333" textLength="6.14" lengthAdjust="spacingAndGlyphs"  fill-opacity="0.5">2</text>
<text x="474.53" y="148.01" font-size="9.40" fill="#333" textLength="6.14" lengthAdjust="spacingAndGlyphs"  fill-opacity="0.5">2</text>
<text x="483.43" y="148.01" font-size="9.40" fill="#333" textLength="6.14" lengthAdjust="spacingAndGlyphs"  fill-opacity="0.5">2</text>
<text x="492.33" y="148.01" font-size="9.40" fill="#333" textLength="6.14" lengthAdjust="spacingAndGlyphs"  fill-opacity="0.5">2</text>
<text x="501.23" y="148.01" font-size="9.40" fill="#333" textLength="6.14" lengthAdjust="spacingAndGlyphs"  fill-opacity="0.5">2</text>
<text x="510.13" y="148.01" font-size="9.40" fill="#333" textLength="6.14" lengthAdjust="spacingAndGlyphs"  fill-opacity="0.5">2</text>
<text x="519.03" y="148.01" font-size="9.40" fill="#333" textLength="6.14" lengthAdjust="spacingAndGlyphs"  fill-opacity="0.5">2</text>
<text x="527.93" y="148.01" font-size="9.40" fill="#333" textLength="6.14" lengthAdjust="spacingAndGlyphs"  fill-opacity="0.5">2</text>
<text x="536.83" y="148.01" font-size="9.40" fill="#333" textLength="6.14" lengthAdjust="spacingAndGlyphs"  fill-opacity="0.5">2</text>
<text x="545.73" y="148.01" font-size="9.40" fill="#333" textLength="6.14" lengthAdjust="spacingAndGlyphs"  fill-opacity="0.5">2</text>
<text x="554.63" y="148.01" font-size="9.40" fill="#333" textLength="6.14" lengthAdjust="spacingAndGlyphs"  fill-opacity="0.5">2</text>
<text x="563.53" y="148.01" font-size="9.40" fill="#333" textLength="6.14" lengthAdjust="spacingAndGlyphs"  fill-opacity="0.5">2</text>
<text x="572.43" y="148.01" font-size="9.40" fill="#333" textLength="6.14" lengthAdjust="spacingAndGlyphs"  fill-opacity="0.5">2</text>
<text x="581.33" y="148.01" font-size="9.40" fill="#333" textLength="6.14" lengthAdjust="spacingAndGlyphs"  fill-opacity="0.5">2</text>
<text x="590.23" y="148.01" font-size="9.40" fill="#333" textLength="6.14" lengthAdjust="spacingAndGlyphs"  fill-opacity="0.5">2</text>
<text x="599.13" y="148.01" font-size="9.40" fill="#333" textLength="6.14" lengthAdjust="spacingAndGlyphs"  fill-opacity="0.5">2</text>
<text x="608.03" y="148.01" font-size="9.40" fill="#333" textLength="6.14" lengthAdjust="spacingAndGlyphs"  fill-opacity="0.5">2</text>
<text x="616.93" y="148.01" font-size="9.40" fill="#333" textLength="6.14" lengthAdjust="spacingAndGlyphs"  fill-opacity="0.5">2</text>
<text x="625.83" y="148.01" font-size="9.40" fill="#333" textLength="6.14" lengthAdjust="spacingAndGlyphs"  fill-opacity="0.5">2</text>
<text x="634.73" y="148.01" font-size="9.40" fill="#333" textLength="6.14" lengthAdjust="spacingAndGlyphs"  fill-opacity="0.5">2</text>
<text x="643.63" y="148.01" font-size="9.40" fill="#333" textLength="6.14" lengthAdjust="spacingAndGlyphs"  fill-opacity="0.5">2</text>
<text x="652.53" y="148.01" font-size="9.40" fill="#333" textLength="6.14" lengthAdjust="spacingAndGlyphs"  fill-opacity="0.5">2</text>
<text x="661.43" y="148.01" font-size="9.40" fill="#333" textLength="6.14" lengthAdjust="spacingAndGlyphs"  fill-opacity="0.5">2</text>
<text x="670.33" y="148.01" font-size="9.40" fill="#333" textLength="6.14" lengthAdjust="spacingAndGlyphs"  fill-opacity="0.5">2</text>
<text x="679.23" y="168.72" font-size="9.40" fill="#333" textLength="6.14" lengthAdjust="spacingAndGlyphs"  >3</text>
<text x="688.13" y="148.01" font-size="9.40" fill="#333" textLength="6.14" lengthAdjust="spacingAndGlyphs"  fill-opacity="0.5">2</text>
<text x="697.03" y="148.01" font-size="9.40" fill="#333" textLength="6.14" lengthAdjust="spacingAndGlyphs"  fill-opacity="0.5">2</text>
<text x="705.93" y="148.01" font-size="9.40" fill="#333" textLength="6.14" lengthAdjust="spacingAndGlyphs"  fill-opacity="0.5">2</text>
<text x="714.83" y="148.01" font-size="9.40" fill="#333" textLength="6.14" lengthAdjust="spacingAndGlyphs"  fill-opacity="0.5">2</text>
<text x="723.73" y="148.01" font-size="9.40" fill="#333" textLength="6.14" lengthAdjust="spacingAndGlyphs"  fill-opacity="0.5">2</text>
<text x="732.63" y="148.01" font-size="9.40" fill="#333" textLength="6.14" lengthAdjust="spacingAndGlyphs"  fill-opacity="0.5">2</text>
<text x="741.53" y="148.01" font-size="9.40" fill="#333" textLength="6.14" lengthAdjust="spacingAndGlyphs"  fill-opacity="0.5">2</text>
<text x="750.43" y="148.01" font-size="9.40" fill="#333" textLength="6.14" lengthAdjust="spacingAndGlyphs"  fill-opacity="0.5">2</text>
<text x="759.33" y="148.01" font-size="9.40" fill="#333" textLength="6.14" lengthAdjust="spacingAndGlyphs"  fill-opacity="0.5">2</text>
<text x="768.23" y="148.01" font-size="9.40" fill="#333" textLength="6.14" lengthAdjust="spacingAndGlyphs"  fill-opacity="0.5">2</text>
<text x="777.13" y="148.01" font-size="9.40" fill="#333" textLength="6.14" lengthAdjust="spacingAndGlyphs"  fill-opacity="0.5">2</text>
<text x="786.03" y="148.01" font-size="9.40" fill="#333" textLength="6.14" lengthAdjust="spacingAndGlyphs"  fill-opacity="0.5">2</text>
<text x="794.93" y="148.01" font-size="9.40" fill="#333" textLength="6.14" lengthAdjust="spacingAndGlyphs"  fill-opacity="0.5">2</text>
<text x="803.83" y="148.01" font-size="9.40" fill="#333" textLength="6.14" lengthAdjust="spacingAndGlyphs"  fill-opacity="0.5">2</text>
<text x="812.73" y="148.01" font-size="9.40" fill="#333" textLength="6.14" lengthAdjust="spacingAndGlyphs"  fill-opacity="0.5">2</text>
<text x="821.63" y="148.01" font-size="9.40" fill="#333" textLength="6.14" lengthAdjust="spacingAndGlyphs"  fill-opacity="0.5">2</text>
<text x="830.53" y="148.01" font-size="9.40" fill="#333" textLength="6.14" lengthAdjust="spacingAndGlyphs"  fill-opacity="0.5">2</text>
<text x="839.43" y="148.01" font-size="9.40" fill="#333" textLength="6.14" lengthAdjust="spacingAndGlyphs"  fill-opacity="0.5">2</text>
<text x="848.33" y="148.01" font-size="9.40" fill="#333" textLength="6.14" lengthAdjust="spacingAndGlyphs"  fill-opacity="0.5">2</text>
<text x="857.23" y="148.01" font-size="9.40" fill="#333" textLength="6.14" lengthAdjust="spacingAndGlyphs"  fill-opacity="0.5">2</text>
<text x="866.13" y="148.01" font-size="9.40" fill="#333" textLength="6.14" lengthAdjust="spacingAndGlyphs"  fill-opacity="0.5">2</text>
</g>
<rect x="59" y="519" width="830" height="15.5" fill="#fff"/>
<rect x="59.4" y="519.5" width="18" height="14.5" fill="#eef0f3" stroke="#dfe3e7"/>
<path d="M70.2,522.6 L70.2,529.8 L65.8,526.2 Z" fill="#111"/>
<rect x="871.4" y="519.5" width="18" height="14.5" fill="#eef0f3" stroke="#dfe3e7"/>
<path d="M879.4,522.6 L879.4,529.8 L883.8,526.2 Z" fill="#111"/>
<rect x="77.8" y="519.5" width="793.2" height="14.3" rx="2.5" ry="2.5" fill="#fff" stroke="#aab4be"/>
<line x1="78" y1="534.3" x2="871" y2="534.3" stroke="#8f9ba6" stroke-width="1.2"/>
<rect x="86" y="522.2" width="777.5" height="8.8" fill="url(#gBar)" stroke="#a9b0b6" stroke-width="0.8"/>
<line x1="80.6" y1="524" x2="80.6" y2="529.2" stroke="#8d8fc8" stroke-width="0.8"/>
<line x1="82.6" y1="524" x2="82.6" y2="529.2" stroke="#8d8fc8" stroke-width="0.8"/>
<line x1="866.4" y1="524" x2="866.4" y2="529.2" stroke="#8d8fc8" stroke-width="0.8"/>
<line x1="868.4" y1="524" x2="868.4" y2="529.2" stroke="#8d8fc8" stroke-width="0.8"/>
<line x1="59.30" y1="535" x2="59.30" y2="541.5" stroke="#c4c4c4" stroke-width="1"/>
<text x="30.87" y="549.40" font-size="9.40" fill="#444" textLength="57.86" lengthAdjust="spacingAndGlyphs"  >07/01/2012</text>
<line x1="121.60" y1="535" x2="121.60" y2="541.5" stroke="#c4c4c4" stroke-width="1"/>
<text x="93.17" y="559.20" font-size="9.40" fill="#444" textLength="57.86" lengthAdjust="spacingAndGlyphs"  >07/08/2012</text>
<line x1="183.90" y1="535" x2="183.90" y2="541.5" stroke="#c4c4c4" stroke-width="1"/>
<text x="155.47" y="549.40" font-size="9.40" fill="#444" textLength="57.86" lengthAdjust="spacingAndGlyphs"  >07/15/2012</text>
<line x1="246.20" y1="535" x2="246.20" y2="541.5" stroke="#c4c4c4" stroke-width="1"/>
<text x="217.77" y="559.20" font-size="9.40" fill="#444" textLength="57.86" lengthAdjust="spacingAndGlyphs"  >07/22/2012</text>
<line x1="308.50" y1="535" x2="308.50" y2="541.5" stroke="#c4c4c4" stroke-width="1"/>
<text x="280.07" y="549.40" font-size="9.40" fill="#444" textLength="57.86" lengthAdjust="spacingAndGlyphs"  >07/29/2012</text>
<line x1="370.80" y1="535" x2="370.80" y2="541.5" stroke="#c4c4c4" stroke-width="1"/>
<text x="342.37" y="559.20" font-size="9.40" fill="#444" textLength="57.86" lengthAdjust="spacingAndGlyphs"  >08/05/2012</text>
<line x1="433.10" y1="535" x2="433.10" y2="541.5" stroke="#c4c4c4" stroke-width="1"/>
<text x="404.67" y="549.40" font-size="9.40" fill="#444" textLength="57.86" lengthAdjust="spacingAndGlyphs"  >08/12/2012</text>
<line x1="495.40" y1="535" x2="495.40" y2="541.5" stroke="#c4c4c4" stroke-width="1"/>
<text x="466.97" y="559.20" font-size="9.40" fill="#444" textLength="57.86" lengthAdjust="spacingAndGlyphs"  >08/19/2012</text>
<line x1="557.70" y1="535" x2="557.70" y2="541.5" stroke="#c4c4c4" stroke-width="1"/>
<text x="529.27" y="549.40" font-size="9.40" fill="#444" textLength="57.86" lengthAdjust="spacingAndGlyphs"  >08/26/2012</text>
<line x1="620.00" y1="535" x2="620.00" y2="541.5" stroke="#c4c4c4" stroke-width="1"/>
<text x="591.57" y="559.20" font-size="9.40" fill="#444" textLength="57.86" lengthAdjust="spacingAndGlyphs"  >09/02/2012</text>
<line x1="682.30" y1="535" x2="682.30" y2="541.5" stroke="#c4c4c4" stroke-width="1"/>
<text x="653.87" y="549.40" font-size="9.40" fill="#444" textLength="57.86" lengthAdjust="spacingAndGlyphs"  >09/09/2012</text>
<line x1="744.60" y1="535" x2="744.60" y2="541.5" stroke="#c4c4c4" stroke-width="1"/>
<text x="716.17" y="559.20" font-size="9.40" fill="#444" textLength="57.86" lengthAdjust="spacingAndGlyphs"  >09/16/2012</text>
<line x1="806.90" y1="535" x2="806.90" y2="541.5" stroke="#c4c4c4" stroke-width="1"/>
<text x="778.47" y="549.40" font-size="9.40" fill="#444" textLength="57.86" lengthAdjust="spacingAndGlyphs"  >09/23/2012</text>
<line x1="869.20" y1="535" x2="869.20" y2="541.5" stroke="#c4c4c4" stroke-width="1"/>
<text x="840.77" y="559.20" font-size="9.40" fill="#444" textLength="57.86" lengthAdjust="spacingAndGlyphs"  >09/30/2012</text>
<path d="M480,541 H508.6 L513.4,535.6 L518.2,541 H547 a4,4 0 0 1 4,4 V553.2 a4,4 0 0 1 -4,4 H480 a4,4 0 0 1 -4,-4 V545 a4,4 0 0 1 4,-4 Z" fill="#d3d3d3"/>
<text x="480.22" y="553.30" font-size="10.45" fill="#111" textLength="65.96" lengthAdjust="spacingAndGlyphs"  >08/21/2012</text>
<rect x="523.3" y="376.2" width="210" height="87.60000000000002" rx="4" ry="4" fill="#25252f" fill-opacity="0.9"/><polygon points="513.4000000000001,419.75 524,399.2 524,439.2" fill="#e9a128"/><rect x="523" y="375.4" width="210" height="87.60000000000002" rx="4" ry="4" fill="#e9a128"/><text x="533.60" y="392.80" font-size="12.24" fill="#fdf0d6" textLength="71.89" lengthAdjust="spacingAndGlyphs"  >Position: 16</text><text x="533.60" y="408.85" font-size="12.24" fill="#fdf0d6" textLength="33.79" lengthAdjust="spacingAndGlyphs"  >Date:</text><text x="592.60" y="408.85" font-size="12.24" fill="#fdf0d6" textLength="71.95" lengthAdjust="spacingAndGlyphs"  >08/21/2012</text><text x="533.60" y="424.90" font-size="12.24" fill="#fdf0d6" textLength="57.72" lengthAdjust="spacingAndGlyphs"  >Keyword:</text><text x="595.20" y="424.90" font-size="12.24" fill="#fdf0d6" textLength="35.40" lengthAdjust="spacingAndGlyphs"  >books</text><text x="533.60" y="440.95" font-size="12.24" fill="#fdf0d6" textLength="51.76" lengthAdjust="spacingAndGlyphs"  >Domain:</text><text x="593.40" y="440.95" font-size="12.24" fill="#fdf0d6" textLength="125.47" lengthAdjust="spacingAndGlyphs"  >barnesandnoble.com</text><text x="533.60" y="457.00" font-size="12.24" fill="#fdf0d6" textLength="21.24" lengthAdjust="spacingAndGlyphs"  >SE:</text><text x="592.60" y="457.00" font-size="12.24" fill="#fdf0d6" textLength="69.54" lengthAdjust="spacingAndGlyphs"  >google.com</text>
<rect x="523.3" y="264.40000000000003" width="210" height="87.59999999999997" rx="4" ry="4" fill="#25252f" fill-opacity="0.9"/><polygon points="513.4000000000001,191.94 524,287.4 524,327.4" fill="#c1112b"/><rect x="523" y="263.6" width="210" height="87.59999999999997" rx="4" ry="4" fill="#c1112b"/><text x="533.60" y="280.00" font-size="12.24" fill="#fbeaea" textLength="64.26" lengthAdjust="spacingAndGlyphs"  >Position: 5</text><text x="533.60" y="296.05" font-size="12.24" fill="#fbeaea" textLength="33.79" lengthAdjust="spacingAndGlyphs"  >Date:</text><text x="592.60" y="296.05" font-size="12.24" fill="#fbeaea" textLength="71.95" lengthAdjust="spacingAndGlyphs"  >08/21/2012</text><text x="533.60" y="312.10" font-size="12.24" fill="#fbeaea" textLength="57.72" lengthAdjust="spacingAndGlyphs"  >Keyword:</text><text x="595.20" y="312.10" font-size="12.24" fill="#fbeaea" textLength="35.40" lengthAdjust="spacingAndGlyphs"  >books</text><text x="533.60" y="328.15" font-size="12.24" fill="#fbeaea" textLength="51.76" lengthAdjust="spacingAndGlyphs"  >Domain:</text><text x="593.40" y="328.15" font-size="12.24" fill="#fbeaea" textLength="125.47" lengthAdjust="spacingAndGlyphs"  >barnesandnoble.com</text><text x="533.60" y="344.20" font-size="12.24" fill="#fbeaea" textLength="21.24" lengthAdjust="spacingAndGlyphs"  >SE:</text><text x="592.60" y="344.20" font-size="12.24" fill="#fbeaea" textLength="69.54" lengthAdjust="spacingAndGlyphs"  >google.com</text>
<rect x="523.3" y="176.79999999999998" width="162.5" height="86.79999999999998" rx="4" ry="4" fill="#25252f" fill-opacity="0.9"/><polygon points="513.4000000000001,129.81 524,198.0 524,238.0" fill="#0a0aa0"/><rect x="523" y="174.6" width="162.5" height="86.79999999999998" rx="4" ry="4" fill="#0a0aa0"/><text x="533.60" y="191.30" font-size="12.24" fill="#f4f4ff" textLength="64.26" lengthAdjust="spacingAndGlyphs"  >Position: 2</text><text x="533.60" y="207.35" font-size="12.24" fill="#f4f4ff" textLength="33.79" lengthAdjust="spacingAndGlyphs"  >Date:</text><text x="592.60" y="207.35" font-size="12.24" fill="#f4f4ff" textLength="71.95" lengthAdjust="spacingAndGlyphs"  >08/21/2012</text><text x="533.60" y="223.40" font-size="12.24" fill="#f4f4ff" textLength="57.72" lengthAdjust="spacingAndGlyphs"  >Keyword:</text><text x="595.20" y="223.40" font-size="12.24" fill="#f4f4ff" textLength="35.40" lengthAdjust="spacingAndGlyphs"  >books</text><text x="533.60" y="239.45" font-size="12.24" fill="#f4f4ff" textLength="51.76" lengthAdjust="spacingAndGlyphs"  >Domain:</text><text x="593.40" y="239.45" font-size="12.24" fill="#f4f4ff" textLength="76.86" lengthAdjust="spacingAndGlyphs"  >amazon.com</text><text x="533.60" y="255.50" font-size="12.24" fill="#f4f4ff" textLength="21.24" lengthAdjust="spacingAndGlyphs"  >SE:</text><text x="592.60" y="255.50" font-size="12.24" fill="#f4f4ff" textLength="69.54" lengthAdjust="spacingAndGlyphs"  >google.com</text>
<rect x="523.3" y="87.6" width="162.5" height="87" rx="4" ry="4" fill="#25252f" fill-opacity="0.9"/><polygon points="513.4000000000001,129.81 524,109.5 524,149.5" fill="#3bb4e6"/><rect x="523" y="86" width="162.5" height="87" rx="4" ry="4" fill="#3bb4e6"/><text x="533.60" y="101.70" font-size="12.24" fill="#46525c" textLength="64.26" lengthAdjust="spacingAndGlyphs"  >Position: 2</text><text x="533.60" y="117.75" font-size="12.24" fill="#46525c" textLength="33.79" lengthAdjust="spacingAndGlyphs"  >Date:</text><text x="592.60" y="117.75" font-size="12.24" fill="#46525c" textLength="71.95" lengthAdjust="spacingAndGlyphs"  >08/21/2012</text><text x="533.60" y="133.80" font-size="12.24" fill="#46525c" textLength="57.72" lengthAdjust="spacingAndGlyphs"  >Keyword:</text><text x="595.20" y="133.80" font-size="12.24" fill="#46525c" textLength="35.40" lengthAdjust="spacingAndGlyphs"  >books</text><text x="533.60" y="149.85" font-size="12.24" fill="#46525c" textLength="51.76" lengthAdjust="spacingAndGlyphs"  >Domain:</text><text x="593.40" y="149.85" font-size="12.24" fill="#46525c" textLength="76.86" lengthAdjust="spacingAndGlyphs"  >amazon.com</text><text x="533.60" y="165.90" font-size="12.24" fill="#46525c" textLength="21.24" lengthAdjust="spacingAndGlyphs"  >SE:</text><text x="592.60" y="165.90" font-size="12.24" fill="#46525c" textLength="69.54" lengthAdjust="spacingAndGlyphs"  >google.com</text>
<path d="M516.5,427.8 L516.5,447.4 L520.8,443.4 L524.2,451.2 L527.4,449.8 L524.1,442.2 L530.2,442.1 Z" fill="#fff" stroke="#111" stroke-width="1" stroke-linejoin="miter"/>
</svg></body></html>
